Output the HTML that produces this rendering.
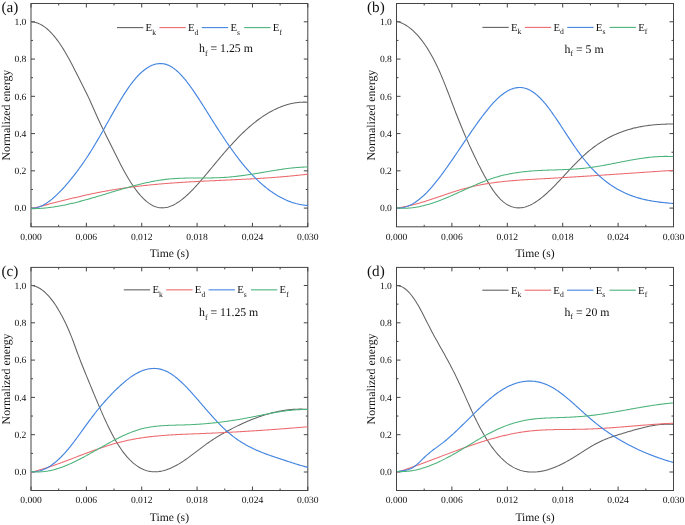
<!DOCTYPE html>
<html><head><meta charset="utf-8"><style>
html,body{margin:0;padding:0;background:#fff;}
svg{display:block;filter:blur(0.3px);}
text{font-family:"Liberation Serif",serif;fill:#111;text-rendering:geometricPrecision;}
.tl{font-size:9.6px;}
.at{font-size:11.6px;}
.at2{font-size:11.85px;}
.pl{font-size:15.2px;}
.lg{font-size:10.8px;}
.an{font-size:11.8px;}
.sb{font-size:7.6px;}
.sb2{font-size:7.8px;}
</style></head><body>
<svg width="685" height="525" viewBox="0 0 685 525">
<rect width="685" height="525" fill="#fff"/>
<rect x="31.00" y="3.50" width="276.80" height="223.30" fill="none" stroke="#444" stroke-width="1"/>
<path d="M31.00,226.80V222.80M31.00,3.50V7.50M58.68,226.80V224.80M58.68,3.50V5.50M86.36,226.80V222.80M86.36,3.50V7.50M114.04,226.80V224.80M114.04,3.50V5.50M141.72,226.80V222.80M141.72,3.50V7.50M169.40,226.80V224.80M169.40,3.50V5.50M197.08,226.80V222.80M197.08,3.50V7.50M224.76,226.80V224.80M224.76,3.50V5.50M252.44,226.80V222.80M252.44,3.50V7.50M280.12,226.80V224.80M280.12,3.50V5.50M307.80,226.80V222.80M307.80,3.50V7.50M31.00,208.10H35.00M307.80,208.10H303.80M31.00,189.47H33.00M307.80,189.47H305.80M31.00,170.84H35.00M307.80,170.84H303.80M31.00,152.21H33.00M307.80,152.21H305.80M31.00,133.58H35.00M307.80,133.58H303.80M31.00,114.95H33.00M307.80,114.95H305.80M31.00,96.32H35.00M307.80,96.32H303.80M31.00,77.69H33.00M307.80,77.69H305.80M31.00,59.06H35.00M307.80,59.06H303.80M31.00,40.43H33.00M307.80,40.43H305.80M31.00,21.80H35.00M307.80,21.80H303.80" stroke="#444" stroke-width="1" fill="none"/>
<path d="M31.50,21.91 L32.50,21.96 L33.50,22.08 L34.50,22.24 L35.50,22.47 L36.50,22.74 L37.50,23.07 L38.50,23.46 L39.50,23.89 L40.50,24.38 L41.50,24.92 L42.50,25.52 L43.50,26.16 L44.50,26.86 L45.50,27.61 L46.50,28.40 L47.50,29.25 L48.50,30.15 L49.50,31.10 L50.50,32.09 L51.50,33.14 L52.50,34.23 L53.50,35.38 L54.50,36.57 L55.50,37.80 L56.50,39.09 L57.50,40.42 L58.50,41.79 L59.50,43.22 L60.50,44.68 L61.50,46.20 L62.50,47.75 L63.50,49.36 L64.50,51.00 L65.50,52.69 L66.50,54.43 L67.50,56.20 L68.50,58.01 L69.50,59.85 L70.50,61.72 L71.50,63.61 L72.50,65.53 L73.50,67.47 L74.50,69.42 L75.50,71.39 L76.50,73.36 L77.50,75.34 L78.50,77.33 L79.50,79.31 L80.50,81.29 L81.50,83.26 L82.50,85.23 L83.50,87.20 L84.50,89.19 L85.50,91.19 L86.50,93.22 L87.50,95.28 L88.50,97.39 L89.50,99.54 L90.50,101.74 L91.50,103.98 L92.50,106.24 L93.50,108.52 L94.50,110.80 L95.50,113.06 L96.50,115.31 L97.50,117.51 L98.50,119.68 L99.50,121.82 L100.50,123.93 L101.50,126.01 L102.50,128.07 L103.50,130.11 L104.50,132.14 L105.50,134.16 L106.50,136.17 L107.50,138.17 L108.50,140.18 L109.50,142.18 L110.50,144.20 L111.50,146.22 L112.50,148.25 L113.50,150.27 L114.50,152.30 L115.50,154.32 L116.50,156.33 L117.50,158.33 L118.50,160.31 L119.50,162.28 L120.50,164.22 L121.50,166.15 L122.50,168.04 L123.50,169.90 L124.50,171.73 L125.50,173.53 L126.50,175.28 L127.50,177.00 L128.50,178.68 L129.50,180.31 L130.50,181.91 L131.50,183.46 L132.50,184.97 L133.50,186.44 L134.50,187.87 L135.50,189.25 L136.50,190.58 L137.50,191.88 L138.50,193.12 L139.50,194.32 L140.50,195.47 L141.50,196.58 L142.50,197.64 L143.50,198.65 L144.50,199.60 L145.50,200.51 L146.50,201.37 L147.50,202.18 L148.50,202.93 L149.50,203.64 L150.50,204.29 L151.50,204.88 L152.50,205.43 L153.50,205.91 L154.50,206.35 L155.50,206.72 L156.50,207.04 L157.50,207.31 L158.50,207.52 L159.50,207.68 L160.50,207.79 L161.50,207.85 L162.50,207.85 L163.50,207.81 L164.50,207.72 L165.50,207.58 L166.50,207.40 L167.50,207.18 L168.50,206.90 L169.50,206.59 L170.50,206.24 L171.50,205.84 L172.50,205.40 L173.50,204.93 L174.50,204.42 L175.50,203.87 L176.50,203.28 L177.50,202.66 L178.50,202.01 L179.50,201.32 L180.50,200.60 L181.50,199.85 L182.50,199.07 L183.50,198.26 L184.50,197.43 L185.50,196.57 L186.50,195.68 L187.50,194.76 L188.50,193.83 L189.50,192.87 L190.50,191.88 L191.50,190.88 L192.50,189.86 L193.50,188.82 L194.50,187.76 L195.50,186.68 L196.50,185.59 L197.50,184.48 L198.50,183.36 L199.50,182.23 L200.50,181.08 L201.50,179.92 L202.50,178.76 L203.50,177.58 L204.50,176.40 L205.50,175.21 L206.50,174.01 L207.50,172.81 L208.50,171.60 L209.50,170.40 L210.50,169.19 L211.50,167.98 L212.50,166.76 L213.50,165.56 L214.50,164.35 L215.50,163.14 L216.50,161.94 L217.50,160.75 L218.50,159.55 L219.50,158.37 L220.50,157.18 L221.50,156.01 L222.50,154.84 L223.50,153.67 L224.50,152.51 L225.50,151.36 L226.50,150.22 L227.50,149.08 L228.50,147.96 L229.50,146.84 L230.50,145.73 L231.50,144.63 L232.50,143.53 L233.50,142.45 L234.50,141.38 L235.50,140.32 L236.50,139.27 L237.50,138.23 L238.50,137.20 L239.50,136.19 L240.50,135.18 L241.50,134.19 L242.50,133.21 L243.50,132.25 L244.50,131.30 L245.50,130.36 L246.50,129.44 L247.50,128.53 L248.50,127.64 L249.50,126.76 L250.50,125.90 L251.50,125.05 L252.50,124.22 L253.50,123.40 L254.50,122.59 L255.50,121.80 L256.50,121.02 L257.50,120.26 L258.50,119.52 L259.50,118.79 L260.50,118.07 L261.50,117.37 L262.50,116.68 L263.50,116.01 L264.50,115.36 L265.50,114.72 L266.50,114.09 L267.50,113.48 L268.50,112.89 L269.50,112.31 L270.50,111.74 L271.50,111.20 L272.50,110.66 L273.50,110.15 L274.50,109.65 L275.50,109.16 L276.50,108.69 L277.50,108.24 L278.50,107.80 L279.50,107.38 L280.50,106.97 L281.50,106.58 L282.50,106.21 L283.50,105.85 L284.50,105.51 L285.50,105.18 L286.50,104.87 L287.50,104.58 L288.50,104.30 L289.50,104.04 L290.50,103.80 L291.50,103.57 L292.50,103.36 L293.50,103.17 L294.50,102.99 L295.50,102.83 L296.50,102.68 L297.50,102.56 L298.50,102.44 L299.50,102.35 L300.50,102.27 L301.50,102.21 L302.50,102.17 L303.50,102.14 L304.50,102.13 L305.50,102.14 L306.50,102.17 L307.50,102.21 L308.00,102.24" fill="none" stroke="#626262" stroke-width="1.05" stroke-linejoin="round"/>
<path d="M31.00,208.67 L32.00,208.42 L33.00,208.17 L34.00,207.92 L35.00,207.67 L36.00,207.42 L37.00,207.17 L38.00,206.91 L39.00,206.66 L40.00,206.41 L41.00,206.15 L42.00,205.90 L43.00,205.64 L44.00,205.39 L45.00,205.13 L46.00,204.88 L47.00,204.62 L48.00,204.37 L49.00,204.11 L50.00,203.86 L51.00,203.60 L52.00,203.35 L53.00,203.09 L54.00,202.84 L55.00,202.58 L56.00,202.33 L57.00,202.08 L58.00,201.82 L59.00,201.57 L60.00,201.32 L61.00,201.07 L62.00,200.81 L63.00,200.56 L64.00,200.31 L65.00,200.07 L66.00,199.82 L67.00,199.57 L68.00,199.32 L69.00,199.08 L70.00,198.83 L71.00,198.59 L72.00,198.35 L73.00,198.10 L74.00,197.86 L75.00,197.62 L76.00,197.39 L77.00,197.15 L78.00,196.91 L79.00,196.68 L80.00,196.45 L81.00,196.21 L82.00,195.99 L83.00,195.76 L84.00,195.53 L85.00,195.31 L86.00,195.08 L87.00,194.86 L88.00,194.64 L89.00,194.42 L90.00,194.21 L91.00,193.99 L92.00,193.78 L93.00,193.57 L94.00,193.36 L95.00,193.16 L96.00,192.95 L97.00,192.75 L98.00,192.55 L99.00,192.36 L100.00,192.16 L101.00,191.97 L102.00,191.78 L103.00,191.59 L104.00,191.41 L105.00,191.22 L106.00,191.04 L107.00,190.86 L108.00,190.69 L109.00,190.51 L110.00,190.34 L111.00,190.17 L112.00,190.00 L113.00,189.83 L114.00,189.67 L115.00,189.50 L116.00,189.34 L117.00,189.18 L118.00,189.03 L119.00,188.87 L120.00,188.72 L121.00,188.57 L122.00,188.42 L123.00,188.27 L124.00,188.13 L125.00,187.98 L126.00,187.84 L127.00,187.70 L128.00,187.56 L129.00,187.43 L130.00,187.29 L131.00,187.16 L132.00,187.03 L133.00,186.90 L134.00,186.77 L135.00,186.65 L136.00,186.52 L137.00,186.40 L138.00,186.28 L139.00,186.16 L140.00,186.04 L141.00,185.93 L142.00,185.81 L143.00,185.70 L144.00,185.59 L145.00,185.48 L146.00,185.37 L147.00,185.26 L148.00,185.16 L149.00,185.06 L150.00,184.95 L151.00,184.85 L152.00,184.75 L153.00,184.66 L154.00,184.56 L155.00,184.46 L156.00,184.37 L157.00,184.28 L158.00,184.19 L159.00,184.10 L160.00,184.01 L161.00,183.92 L162.00,183.84 L163.00,183.75 L164.00,183.67 L165.00,183.59 L166.00,183.51 L167.00,183.43 L168.00,183.35 L169.00,183.27 L170.00,183.20 L171.00,183.12 L172.00,183.05 L173.00,182.97 L174.00,182.90 L175.00,182.83 L176.00,182.76 L177.00,182.69 L178.00,182.63 L179.00,182.56 L180.00,182.49 L181.00,182.43 L182.00,182.36 L183.00,182.30 L184.00,182.24 L185.00,182.18 L186.00,182.12 L187.00,182.06 L188.00,182.00 L189.00,181.94 L190.00,181.88 L191.00,181.83 L192.00,181.77 L193.00,181.71 L194.00,181.66 L195.00,181.61 L196.00,181.55 L197.00,181.50 L198.00,181.45 L199.00,181.39 L200.00,181.34 L201.00,181.29 L202.00,181.24 L203.00,181.19 L204.00,181.14 L205.00,181.09 L206.00,181.04 L207.00,180.99 L208.00,180.95 L209.00,180.90 L210.00,180.85 L211.00,180.80 L212.00,180.76 L213.00,180.71 L214.00,180.66 L215.00,180.62 L216.00,180.57 L217.00,180.52 L218.00,180.48 L219.00,180.43 L220.00,180.39 L221.00,180.34 L222.00,180.29 L223.00,180.25 L224.00,180.20 L225.00,180.16 L226.00,180.11 L227.00,180.07 L228.00,180.02 L229.00,179.97 L230.00,179.93 L231.00,179.88 L232.00,179.83 L233.00,179.79 L234.00,179.74 L235.00,179.69 L236.00,179.64 L237.00,179.60 L238.00,179.55 L239.00,179.50 L240.00,179.45 L241.00,179.40 L242.00,179.35 L243.00,179.30 L244.00,179.25 L245.00,179.20 L246.00,179.15 L247.00,179.10 L248.00,179.05 L249.00,178.99 L250.00,178.94 L251.00,178.89 L252.00,178.83 L253.00,178.77 L254.00,178.72 L255.00,178.66 L256.00,178.60 L257.00,178.55 L258.00,178.49 L259.00,178.43 L260.00,178.37 L261.00,178.31 L262.00,178.24 L263.00,178.18 L264.00,178.12 L265.00,178.05 L266.00,177.99 L267.00,177.92 L268.00,177.85 L269.00,177.79 L270.00,177.72 L271.00,177.65 L272.00,177.57 L273.00,177.50 L274.00,177.43 L275.00,177.35 L276.00,177.28 L277.00,177.20 L278.00,177.12 L279.00,177.04 L280.00,176.96 L281.00,176.88 L282.00,176.80 L283.00,176.71 L284.00,176.63 L285.00,176.54 L286.00,176.45 L287.00,176.36 L288.00,176.27 L289.00,176.18 L290.00,176.09 L291.00,175.99 L292.00,175.89 L293.00,175.80 L294.00,175.70 L295.00,175.60 L296.00,175.49 L297.00,175.39 L298.00,175.28 L299.00,175.17 L300.00,175.07 L301.00,174.95 L302.00,174.84 L303.00,174.73 L304.00,174.61 L305.00,174.49 L306.00,174.37 L307.00,174.25 L308.00,174.13" fill="none" stroke="#ec6a6e" stroke-width="1.05" stroke-linejoin="round"/>
<path d="M31.00,208.35 L32.00,208.33 L33.00,208.26 L34.00,208.15 L35.00,207.99 L36.00,207.78 L37.00,207.53 L38.00,207.24 L39.00,206.90 L40.00,206.53 L41.00,206.11 L42.00,205.65 L43.00,205.16 L44.00,204.62 L45.00,204.05 L46.00,203.45 L47.00,202.81 L48.00,202.13 L49.00,201.42 L50.00,200.68 L51.00,199.91 L52.00,199.10 L53.00,198.27 L54.00,197.41 L55.00,196.52 L56.00,195.60 L57.00,194.65 L58.00,193.68 L59.00,192.69 L60.00,191.67 L61.00,190.63 L62.00,189.57 L63.00,188.49 L64.00,187.38 L65.00,186.26 L66.00,185.12 L67.00,183.96 L68.00,182.79 L69.00,181.60 L70.00,180.39 L71.00,179.17 L72.00,177.93 L73.00,176.67 L74.00,175.40 L75.00,174.11 L76.00,172.80 L77.00,171.48 L78.00,170.14 L79.00,168.78 L80.00,167.40 L81.00,166.00 L82.00,164.59 L83.00,163.16 L84.00,161.71 L85.00,160.24 L86.00,158.75 L87.00,157.25 L88.00,155.72 L89.00,154.18 L90.00,152.62 L91.00,151.03 L92.00,149.43 L93.00,147.81 L94.00,146.17 L95.00,144.51 L96.00,142.82 L97.00,141.13 L98.00,139.41 L99.00,137.69 L100.00,135.94 L101.00,134.19 L102.00,132.43 L103.00,130.66 L104.00,128.89 L105.00,127.10 L106.00,125.32 L107.00,123.53 L108.00,121.75 L109.00,119.96 L110.00,118.18 L111.00,116.40 L112.00,114.63 L113.00,112.87 L114.00,111.11 L115.00,109.37 L116.00,107.63 L117.00,105.92 L118.00,104.21 L119.00,102.53 L120.00,100.86 L121.00,99.21 L122.00,97.58 L123.00,95.98 L124.00,94.40 L125.00,92.85 L126.00,91.33 L127.00,89.83 L128.00,88.37 L129.00,86.94 L130.00,85.54 L131.00,84.18 L132.00,82.85 L133.00,81.57 L134.00,80.32 L135.00,79.12 L136.00,77.95 L137.00,76.83 L138.00,75.75 L139.00,74.72 L140.00,73.73 L141.00,72.78 L142.00,71.87 L143.00,71.01 L144.00,70.19 L145.00,69.42 L146.00,68.70 L147.00,68.02 L148.00,67.38 L149.00,66.80 L150.00,66.26 L151.00,65.77 L152.00,65.32 L153.00,64.93 L154.00,64.58 L155.00,64.29 L156.00,64.04 L157.00,63.84 L158.00,63.70 L159.00,63.60 L160.00,63.56 L161.00,63.57 L162.00,63.63 L163.00,63.74 L164.00,63.91 L165.00,64.13 L166.00,64.40 L167.00,64.73 L168.00,65.11 L169.00,65.55 L170.00,66.04 L171.00,66.59 L172.00,67.20 L173.00,67.86 L174.00,68.57 L175.00,69.34 L176.00,70.15 L177.00,71.02 L178.00,71.93 L179.00,72.89 L180.00,73.89 L181.00,74.93 L182.00,76.01 L183.00,77.14 L184.00,78.30 L185.00,79.49 L186.00,80.73 L187.00,81.99 L188.00,83.29 L189.00,84.61 L190.00,85.97 L191.00,87.35 L192.00,88.75 L193.00,90.18 L194.00,91.64 L195.00,93.11 L196.00,94.60 L197.00,96.11 L198.00,97.64 L199.00,99.18 L200.00,100.73 L201.00,102.29 L202.00,103.86 L203.00,105.45 L204.00,107.03 L205.00,108.63 L206.00,110.22 L207.00,111.82 L208.00,113.42 L209.00,115.02 L210.00,116.61 L211.00,118.20 L212.00,119.79 L213.00,121.37 L214.00,122.94 L215.00,124.51 L216.00,126.08 L217.00,127.63 L218.00,129.18 L219.00,130.72 L220.00,132.26 L221.00,133.78 L222.00,135.30 L223.00,136.80 L224.00,138.30 L225.00,139.79 L226.00,141.26 L227.00,142.73 L228.00,144.18 L229.00,145.62 L230.00,147.05 L231.00,148.47 L232.00,149.87 L233.00,151.26 L234.00,152.64 L235.00,154.00 L236.00,155.35 L237.00,156.69 L238.00,158.00 L239.00,159.30 L240.00,160.59 L241.00,161.86 L242.00,163.11 L243.00,164.34 L244.00,165.56 L245.00,166.76 L246.00,167.94 L247.00,169.10 L248.00,170.24 L249.00,171.36 L250.00,172.47 L251.00,173.55 L252.00,174.62 L253.00,175.67 L254.00,176.70 L255.00,177.71 L256.00,178.70 L257.00,179.67 L258.00,180.63 L259.00,181.57 L260.00,182.49 L261.00,183.39 L262.00,184.27 L263.00,185.13 L264.00,185.98 L265.00,186.80 L266.00,187.61 L267.00,188.40 L268.00,189.18 L269.00,189.93 L270.00,190.67 L271.00,191.39 L272.00,192.09 L273.00,192.77 L274.00,193.43 L275.00,194.08 L276.00,194.70 L277.00,195.31 L278.00,195.91 L279.00,196.48 L280.00,197.04 L281.00,197.58 L282.00,198.10 L283.00,198.60 L284.00,199.08 L285.00,199.55 L286.00,200.00 L287.00,200.43 L288.00,200.85 L289.00,201.24 L290.00,201.62 L291.00,201.98 L292.00,202.33 L293.00,202.65 L294.00,202.96 L295.00,203.25 L296.00,203.53 L297.00,203.78 L298.00,204.02 L299.00,204.24 L300.00,204.45 L301.00,204.63 L302.00,204.80 L303.00,204.96 L304.00,205.09 L305.00,205.21 L306.00,205.31 L307.00,205.39 L308.00,205.46" fill="none" stroke="#4485e0" stroke-width="1.15" stroke-linejoin="round"/>
<path d="M31.00,208.65 L32.00,208.65 L33.00,208.65 L34.00,208.64 L35.00,208.62 L36.00,208.59 L37.00,208.56 L38.00,208.52 L39.00,208.47 L40.00,208.41 L41.00,208.35 L42.00,208.28 L43.00,208.20 L44.00,208.11 L45.00,208.02 L46.00,207.92 L47.00,207.82 L48.00,207.71 L49.00,207.59 L50.00,207.47 L51.00,207.34 L52.00,207.20 L53.00,207.06 L54.00,206.91 L55.00,206.76 L56.00,206.60 L57.00,206.43 L58.00,206.26 L59.00,206.09 L60.00,205.91 L61.00,205.72 L62.00,205.53 L63.00,205.34 L64.00,205.14 L65.00,204.93 L66.00,204.72 L67.00,204.51 L68.00,204.29 L69.00,204.07 L70.00,203.84 L71.00,203.61 L72.00,203.38 L73.00,203.14 L74.00,202.90 L75.00,202.66 L76.00,202.41 L77.00,202.16 L78.00,201.90 L79.00,201.64 L80.00,201.38 L81.00,201.12 L82.00,200.85 L83.00,200.58 L84.00,200.31 L85.00,200.03 L86.00,199.76 L87.00,199.48 L88.00,199.20 L89.00,198.91 L90.00,198.63 L91.00,198.34 L92.00,198.05 L93.00,197.76 L94.00,197.47 L95.00,197.18 L96.00,196.88 L97.00,196.58 L98.00,196.29 L99.00,195.99 L100.00,195.69 L101.00,195.39 L102.00,195.09 L103.00,194.79 L104.00,194.49 L105.00,194.18 L106.00,193.88 L107.00,193.58 L108.00,193.28 L109.00,192.98 L110.00,192.67 L111.00,192.37 L112.00,192.07 L113.00,191.77 L114.00,191.47 L115.00,191.17 L116.00,190.87 L117.00,190.57 L118.00,190.28 L119.00,189.98 L120.00,189.69 L121.00,189.39 L122.00,189.10 L123.00,188.81 L124.00,188.52 L125.00,188.24 L126.00,187.95 L127.00,187.67 L128.00,187.39 L129.00,187.11 L130.00,186.84 L131.00,186.56 L132.00,186.29 L133.00,186.02 L134.00,185.76 L135.00,185.50 L136.00,185.24 L137.00,184.98 L138.00,184.73 L139.00,184.48 L140.00,184.23 L141.00,183.99 L142.00,183.75 L143.00,183.51 L144.00,183.28 L145.00,183.05 L146.00,182.83 L147.00,182.61 L148.00,182.39 L149.00,182.18 L150.00,181.97 L151.00,181.77 L152.00,181.57 L153.00,181.38 L154.00,181.19 L155.00,181.01 L156.00,180.83 L157.00,180.66 L158.00,180.49 L159.00,180.33 L160.00,180.17 L161.00,180.02 L162.00,179.88 L163.00,179.74 L164.00,179.61 L165.00,179.48 L166.00,179.36 L167.00,179.24 L168.00,179.14 L169.00,179.03 L170.00,178.94 L171.00,178.85 L172.00,178.77 L173.00,178.69 L174.00,178.62 L175.00,178.55 L176.00,178.49 L177.00,178.43 L178.00,178.38 L179.00,178.33 L180.00,178.28 L181.00,178.24 L182.00,178.21 L183.00,178.18 L184.00,178.15 L185.00,178.12 L186.00,178.10 L187.00,178.08 L188.00,178.06 L189.00,178.05 L190.00,178.03 L191.00,178.02 L192.00,178.01 L193.00,178.00 L194.00,178.00 L195.00,177.99 L196.00,177.99 L197.00,177.99 L198.00,177.98 L199.00,177.98 L200.00,177.98 L201.00,177.98 L202.00,177.97 L203.00,177.97 L204.00,177.97 L205.00,177.96 L206.00,177.96 L207.00,177.95 L208.00,177.94 L209.00,177.93 L210.00,177.92 L211.00,177.90 L212.00,177.89 L213.00,177.87 L214.00,177.85 L215.00,177.82 L216.00,177.79 L217.00,177.76 L218.00,177.73 L219.00,177.69 L220.00,177.65 L221.00,177.60 L222.00,177.55 L223.00,177.50 L224.00,177.44 L225.00,177.37 L226.00,177.30 L227.00,177.23 L228.00,177.15 L229.00,177.07 L230.00,176.98 L231.00,176.89 L232.00,176.79 L233.00,176.69 L234.00,176.59 L235.00,176.48 L236.00,176.37 L237.00,176.25 L238.00,176.14 L239.00,176.01 L240.00,175.89 L241.00,175.76 L242.00,175.63 L243.00,175.50 L244.00,175.36 L245.00,175.22 L246.00,175.08 L247.00,174.93 L248.00,174.79 L249.00,174.64 L250.00,174.49 L251.00,174.33 L252.00,174.18 L253.00,174.02 L254.00,173.86 L255.00,173.70 L256.00,173.54 L257.00,173.37 L258.00,173.21 L259.00,173.04 L260.00,172.87 L261.00,172.70 L262.00,172.53 L263.00,172.36 L264.00,172.19 L265.00,172.02 L266.00,171.85 L267.00,171.68 L268.00,171.51 L269.00,171.34 L270.00,171.17 L271.00,171.01 L272.00,170.84 L273.00,170.67 L274.00,170.51 L275.00,170.34 L276.00,170.18 L277.00,170.02 L278.00,169.87 L279.00,169.71 L280.00,169.56 L281.00,169.41 L282.00,169.26 L283.00,169.12 L284.00,168.98 L285.00,168.84 L286.00,168.71 L287.00,168.58 L288.00,168.45 L289.00,168.33 L290.00,168.21 L291.00,168.09 L292.00,167.99 L293.00,167.88 L294.00,167.78 L295.00,167.69 L296.00,167.60 L297.00,167.51 L298.00,167.44 L299.00,167.36 L300.00,167.30 L301.00,167.24 L302.00,167.18 L303.00,167.14 L304.00,167.10 L305.00,167.06 L306.00,167.04 L307.00,167.02 L308.00,167.00" fill="none" stroke="#4cb37b" stroke-width="1.05" stroke-linejoin="round"/>
<text x="31.00" y="239.50" text-anchor="middle" class="tl">0.000</text>
<text x="86.36" y="239.50" text-anchor="middle" class="tl">0.006</text>
<text x="141.72" y="239.50" text-anchor="middle" class="tl">0.012</text>
<text x="197.08" y="239.50" text-anchor="middle" class="tl">0.018</text>
<text x="252.44" y="239.50" text-anchor="middle" class="tl">0.024</text>
<text x="307.80" y="239.50" text-anchor="middle" class="tl">0.030</text>
<text x="26.40" y="211.40" text-anchor="end" class="tl">0.0</text>
<text x="26.40" y="174.14" text-anchor="end" class="tl">0.2</text>
<text x="26.40" y="136.88" text-anchor="end" class="tl">0.4</text>
<text x="26.40" y="99.62" text-anchor="end" class="tl">0.6</text>
<text x="26.40" y="62.36" text-anchor="end" class="tl">0.8</text>
<text x="26.40" y="25.10" text-anchor="end" class="tl">1.0</text>
<text x="169.40" y="256.80" text-anchor="middle" class="at">Time (s)</text>
<text transform="translate(9.80,115.15) rotate(-90)" text-anchor="middle" class="at2">Normalized energy</text>
<text x="1.50" y="11.90" class="pl">(a)</text>
<path d="M117.00,27.60H143.30" stroke="#626262" stroke-width="1.1"/>
<text x="145.60" y="31.20" class="lg">E<tspan class="sb" dy="3.4">k</tspan></text>
<path d="M159.40,27.60H185.70" stroke="#ec6a6e" stroke-width="1.1"/>
<text x="188.00" y="31.20" class="lg">E<tspan class="sb" dy="3.4">d</tspan></text>
<path d="M201.80,27.60H228.10" stroke="#4485e0" stroke-width="1.1"/>
<text x="230.40" y="31.20" class="lg">E<tspan class="sb" dy="3.4">s</tspan></text>
<path d="M244.20,27.60H270.50" stroke="#4cb37b" stroke-width="1.1"/>
<text x="272.80" y="31.20" class="lg">E<tspan class="sb" dy="3.4">f</tspan></text>
<text x="199.00" y="52.20" class="an">h<tspan class="sb2" dy="3.6">f</tspan><tspan dy="-3.6"> = 1.25 m</tspan></text>
<rect x="396.50" y="3.50" width="277.00" height="223.30" fill="none" stroke="#444" stroke-width="1"/>
<path d="M396.50,226.80V222.80M396.50,3.50V7.50M424.20,226.80V224.80M424.20,3.50V5.50M451.90,226.80V222.80M451.90,3.50V7.50M479.60,226.80V224.80M479.60,3.50V5.50M507.30,226.80V222.80M507.30,3.50V7.50M535.00,226.80V224.80M535.00,3.50V5.50M562.70,226.80V222.80M562.70,3.50V7.50M590.40,226.80V224.80M590.40,3.50V5.50M618.10,226.80V222.80M618.10,3.50V7.50M645.80,226.80V224.80M645.80,3.50V5.50M673.50,226.80V222.80M673.50,3.50V7.50M396.50,208.10H400.50M673.50,208.10H669.50M396.50,189.47H398.50M673.50,189.47H671.50M396.50,170.84H400.50M673.50,170.84H669.50M396.50,152.21H398.50M673.50,152.21H671.50M396.50,133.58H400.50M673.50,133.58H669.50M396.50,114.95H398.50M673.50,114.95H671.50M396.50,96.32H400.50M673.50,96.32H669.50M396.50,77.69H398.50M673.50,77.69H671.50M396.50,59.06H400.50M673.50,59.06H669.50M396.50,40.43H398.50M673.50,40.43H671.50M396.50,21.80H400.50M673.50,21.80H669.50" stroke="#444" stroke-width="1" fill="none"/>
<path d="M397.00,21.37 L398.00,21.65 L399.00,21.98 L400.00,22.34 L401.00,22.73 L402.00,23.17 L403.00,23.64 L404.00,24.16 L405.00,24.71 L406.00,25.31 L407.00,25.94 L408.00,26.62 L409.00,27.33 L410.00,28.09 L411.00,28.89 L412.00,29.73 L413.00,30.62 L414.00,31.55 L415.00,32.52 L416.00,33.54 L417.00,34.60 L418.00,35.71 L419.00,36.86 L420.00,38.06 L421.00,39.31 L422.00,40.60 L423.00,41.94 L424.00,43.33 L425.00,44.77 L426.00,46.25 L427.00,47.78 L428.00,49.37 L429.00,51.00 L430.00,52.69 L431.00,54.43 L432.00,56.22 L433.00,58.07 L434.00,59.97 L435.00,61.93 L436.00,63.94 L437.00,66.01 L438.00,68.14 L439.00,70.33 L440.00,72.58 L441.00,74.88 L442.00,77.25 L443.00,79.66 L444.00,82.11 L445.00,84.61 L446.00,87.14 L447.00,89.70 L448.00,92.28 L449.00,94.89 L450.00,97.50 L451.00,100.13 L452.00,102.75 L453.00,105.38 L454.00,108.00 L455.00,110.60 L456.00,113.19 L457.00,115.76 L458.00,118.29 L459.00,120.80 L460.00,123.29 L461.00,125.74 L462.00,128.17 L463.00,130.57 L464.00,132.94 L465.00,135.28 L466.00,137.60 L467.00,139.89 L468.00,142.16 L469.00,144.39 L470.00,146.61 L471.00,148.79 L472.00,150.96 L473.00,153.09 L474.00,155.20 L475.00,157.29 L476.00,159.35 L477.00,161.38 L478.00,163.40 L479.00,165.38 L480.00,167.35 L481.00,169.29 L482.00,171.20 L483.00,173.10 L484.00,174.97 L485.00,176.81 L486.00,178.62 L487.00,180.40 L488.00,182.13 L489.00,183.83 L490.00,185.48 L491.00,187.07 L492.00,188.62 L493.00,190.11 L494.00,191.53 L495.00,192.90 L496.00,194.20 L497.00,195.44 L498.00,196.61 L499.00,197.73 L500.00,198.78 L501.00,199.77 L502.00,200.70 L503.00,201.58 L504.00,202.39 L505.00,203.14 L506.00,203.83 L507.00,204.47 L508.00,205.05 L509.00,205.57 L510.00,206.03 L511.00,206.44 L512.00,206.80 L513.00,207.10 L514.00,207.35 L515.00,207.56 L516.00,207.71 L517.00,207.81 L518.00,207.86 L519.00,207.87 L520.00,207.83 L521.00,207.75 L522.00,207.63 L523.00,207.46 L524.00,207.24 L525.00,206.99 L526.00,206.70 L527.00,206.37 L528.00,206.00 L529.00,205.59 L530.00,205.15 L531.00,204.67 L532.00,204.16 L533.00,203.62 L534.00,203.04 L535.00,202.44 L536.00,201.80 L537.00,201.13 L538.00,200.44 L539.00,199.72 L540.00,198.97 L541.00,198.20 L542.00,197.40 L543.00,196.58 L544.00,195.74 L545.00,194.88 L546.00,193.99 L547.00,193.09 L548.00,192.17 L549.00,191.23 L550.00,190.28 L551.00,189.31 L552.00,188.33 L553.00,187.33 L554.00,186.32 L555.00,185.30 L556.00,184.27 L557.00,183.23 L558.00,182.18 L559.00,181.13 L560.00,180.07 L561.00,179.00 L562.00,177.93 L563.00,176.85 L564.00,175.78 L565.00,174.70 L566.00,173.62 L567.00,172.54 L568.00,171.47 L569.00,170.39 L570.00,169.32 L571.00,168.26 L572.00,167.20 L573.00,166.14 L574.00,165.10 L575.00,164.06 L576.00,163.03 L577.00,162.01 L578.00,161.01 L579.00,160.01 L580.00,159.03 L581.00,158.07 L582.00,157.12 L583.00,156.18 L584.00,155.27 L585.00,154.37 L586.00,153.49 L587.00,152.62 L588.00,151.77 L589.00,150.94 L590.00,150.13 L591.00,149.33 L592.00,148.54 L593.00,147.78 L594.00,147.03 L595.00,146.29 L596.00,145.57 L597.00,144.86 L598.00,144.18 L599.00,143.50 L600.00,142.84 L601.00,142.20 L602.00,141.57 L603.00,140.95 L604.00,140.35 L605.00,139.76 L606.00,139.19 L607.00,138.63 L608.00,138.08 L609.00,137.55 L610.00,137.03 L611.00,136.52 L612.00,136.03 L613.00,135.54 L614.00,135.08 L615.00,134.62 L616.00,134.18 L617.00,133.74 L618.00,133.33 L619.00,132.92 L620.00,132.52 L621.00,132.14 L622.00,131.76 L623.00,131.40 L624.00,131.05 L625.00,130.71 L626.00,130.38 L627.00,130.06 L628.00,129.75 L629.00,129.45 L630.00,129.17 L631.00,128.89 L632.00,128.62 L633.00,128.36 L634.00,128.11 L635.00,127.87 L636.00,127.64 L637.00,127.41 L638.00,127.20 L639.00,127.00 L640.00,126.80 L641.00,126.61 L642.00,126.43 L643.00,126.26 L644.00,126.09 L645.00,125.94 L646.00,125.79 L647.00,125.65 L648.00,125.51 L649.00,125.38 L650.00,125.26 L651.00,125.15 L652.00,125.04 L653.00,124.94 L654.00,124.85 L655.00,124.76 L656.00,124.67 L657.00,124.60 L658.00,124.52 L659.00,124.46 L660.00,124.40 L661.00,124.34 L662.00,124.29 L663.00,124.24 L664.00,124.20 L665.00,124.16 L666.00,124.13 L667.00,124.10 L668.00,124.08 L669.00,124.06 L670.00,124.04 L671.00,124.03 L672.00,124.02 L673.00,124.01" fill="none" stroke="#626262" stroke-width="1.05" stroke-linejoin="round"/>
<path d="M397.00,207.86 L398.00,207.73 L399.00,207.60 L400.00,207.46 L401.00,207.31 L402.00,207.15 L403.00,206.98 L404.00,206.80 L405.00,206.61 L406.00,206.41 L407.00,206.21 L408.00,205.99 L409.00,205.77 L410.00,205.55 L411.00,205.31 L412.00,205.07 L413.00,204.82 L414.00,204.56 L415.00,204.30 L416.00,204.03 L417.00,203.76 L418.00,203.48 L419.00,203.20 L420.00,202.91 L421.00,202.61 L422.00,202.31 L423.00,202.01 L424.00,201.70 L425.00,201.39 L426.00,201.07 L427.00,200.75 L428.00,200.43 L429.00,200.11 L430.00,199.78 L431.00,199.45 L432.00,199.12 L433.00,198.78 L434.00,198.45 L435.00,198.11 L436.00,197.77 L437.00,197.43 L438.00,197.09 L439.00,196.75 L440.00,196.41 L441.00,196.07 L442.00,195.73 L443.00,195.38 L444.00,195.04 L445.00,194.70 L446.00,194.37 L447.00,194.03 L448.00,193.69 L449.00,193.36 L450.00,193.03 L451.00,192.69 L452.00,192.37 L453.00,192.04 L454.00,191.72 L455.00,191.40 L456.00,191.08 L457.00,190.77 L458.00,190.46 L459.00,190.16 L460.00,189.86 L461.00,189.56 L462.00,189.27 L463.00,188.99 L464.00,188.70 L465.00,188.43 L466.00,188.16 L467.00,187.89 L468.00,187.64 L469.00,187.38 L470.00,187.14 L471.00,186.89 L472.00,186.66 L473.00,186.43 L474.00,186.20 L475.00,185.98 L476.00,185.76 L477.00,185.55 L478.00,185.35 L479.00,185.14 L480.00,184.95 L481.00,184.76 L482.00,184.57 L483.00,184.39 L484.00,184.21 L485.00,184.03 L486.00,183.86 L487.00,183.70 L488.00,183.54 L489.00,183.38 L490.00,183.23 L491.00,183.08 L492.00,182.93 L493.00,182.79 L494.00,182.65 L495.00,182.52 L496.00,182.39 L497.00,182.26 L498.00,182.14 L499.00,182.01 L500.00,181.90 L501.00,181.78 L502.00,181.67 L503.00,181.56 L504.00,181.46 L505.00,181.35 L506.00,181.25 L507.00,181.15 L508.00,181.06 L509.00,180.97 L510.00,180.88 L511.00,180.79 L512.00,180.70 L513.00,180.62 L514.00,180.54 L515.00,180.46 L516.00,180.38 L517.00,180.31 L518.00,180.23 L519.00,180.16 L520.00,180.09 L521.00,180.02 L522.00,179.95 L523.00,179.89 L524.00,179.82 L525.00,179.76 L526.00,179.70 L527.00,179.64 L528.00,179.58 L529.00,179.52 L530.00,179.46 L531.00,179.40 L532.00,179.34 L533.00,179.29 L534.00,179.23 L535.00,179.18 L536.00,179.12 L537.00,179.07 L538.00,179.01 L539.00,178.96 L540.00,178.91 L541.00,178.85 L542.00,178.80 L543.00,178.74 L544.00,178.69 L545.00,178.63 L546.00,178.58 L547.00,178.52 L548.00,178.47 L549.00,178.41 L550.00,178.36 L551.00,178.30 L552.00,178.24 L553.00,178.19 L554.00,178.13 L555.00,178.07 L556.00,178.01 L557.00,177.96 L558.00,177.90 L559.00,177.84 L560.00,177.78 L561.00,177.72 L562.00,177.66 L563.00,177.60 L564.00,177.55 L565.00,177.49 L566.00,177.43 L567.00,177.37 L568.00,177.30 L569.00,177.24 L570.00,177.18 L571.00,177.12 L572.00,177.06 L573.00,177.00 L574.00,176.94 L575.00,176.88 L576.00,176.81 L577.00,176.75 L578.00,176.69 L579.00,176.63 L580.00,176.56 L581.00,176.50 L582.00,176.44 L583.00,176.38 L584.00,176.31 L585.00,176.25 L586.00,176.18 L587.00,176.12 L588.00,176.06 L589.00,175.99 L590.00,175.93 L591.00,175.86 L592.00,175.80 L593.00,175.73 L594.00,175.67 L595.00,175.60 L596.00,175.54 L597.00,175.47 L598.00,175.41 L599.00,175.34 L600.00,175.28 L601.00,175.21 L602.00,175.15 L603.00,175.08 L604.00,175.01 L605.00,174.95 L606.00,174.88 L607.00,174.81 L608.00,174.75 L609.00,174.68 L610.00,174.61 L611.00,174.55 L612.00,174.48 L613.00,174.41 L614.00,174.35 L615.00,174.28 L616.00,174.21 L617.00,174.14 L618.00,174.08 L619.00,174.01 L620.00,173.94 L621.00,173.87 L622.00,173.81 L623.00,173.74 L624.00,173.67 L625.00,173.60 L626.00,173.54 L627.00,173.47 L628.00,173.40 L629.00,173.33 L630.00,173.26 L631.00,173.20 L632.00,173.13 L633.00,173.06 L634.00,172.99 L635.00,172.92 L636.00,172.85 L637.00,172.79 L638.00,172.72 L639.00,172.65 L640.00,172.58 L641.00,172.51 L642.00,172.44 L643.00,172.38 L644.00,172.31 L645.00,172.24 L646.00,172.17 L647.00,172.10 L648.00,172.04 L649.00,171.97 L650.00,171.90 L651.00,171.83 L652.00,171.76 L653.00,171.69 L654.00,171.63 L655.00,171.56 L656.00,171.49 L657.00,171.42 L658.00,171.35 L659.00,171.29 L660.00,171.22 L661.00,171.15 L662.00,171.08 L663.00,171.02 L664.00,170.95 L665.00,170.88 L666.00,170.81 L667.00,170.75 L668.00,170.68 L669.00,170.61 L670.00,170.54 L671.00,170.48 L672.00,170.41 L673.00,170.34 L673.20,170.33" fill="none" stroke="#ec6a6e" stroke-width="1.05" stroke-linejoin="round"/>
<path d="M397.00,207.99 L398.00,208.02 L399.00,208.01 L400.00,207.96 L401.00,207.87 L402.00,207.73 L403.00,207.55 L404.00,207.33 L405.00,207.07 L406.00,206.78 L407.00,206.44 L408.00,206.06 L409.00,205.65 L410.00,205.20 L411.00,204.71 L412.00,204.19 L413.00,203.63 L414.00,203.03 L415.00,202.40 L416.00,201.73 L417.00,201.03 L418.00,200.30 L419.00,199.53 L420.00,198.73 L421.00,197.90 L422.00,197.04 L423.00,196.15 L424.00,195.23 L425.00,194.27 L426.00,193.29 L427.00,192.28 L428.00,191.24 L429.00,190.17 L430.00,189.07 L431.00,187.95 L432.00,186.80 L433.00,185.63 L434.00,184.44 L435.00,183.22 L436.00,181.98 L437.00,180.72 L438.00,179.45 L439.00,178.15 L440.00,176.83 L441.00,175.50 L442.00,174.16 L443.00,172.80 L444.00,171.42 L445.00,170.03 L446.00,168.64 L447.00,167.23 L448.00,165.81 L449.00,164.38 L450.00,162.94 L451.00,161.50 L452.00,160.05 L453.00,158.59 L454.00,157.13 L455.00,155.67 L456.00,154.20 L457.00,152.73 L458.00,151.26 L459.00,149.78 L460.00,148.31 L461.00,146.83 L462.00,145.35 L463.00,143.87 L464.00,142.40 L465.00,140.92 L466.00,139.45 L467.00,137.98 L468.00,136.52 L469.00,135.06 L470.00,133.60 L471.00,132.15 L472.00,130.70 L473.00,129.27 L474.00,127.84 L475.00,126.42 L476.00,125.01 L477.00,123.60 L478.00,122.21 L479.00,120.83 L480.00,119.46 L481.00,118.11 L482.00,116.76 L483.00,115.43 L484.00,114.12 L485.00,112.82 L486.00,111.54 L487.00,110.28 L488.00,109.04 L489.00,107.82 L490.00,106.63 L491.00,105.46 L492.00,104.32 L493.00,103.21 L494.00,102.13 L495.00,101.08 L496.00,100.07 L497.00,99.09 L498.00,98.14 L499.00,97.23 L500.00,96.36 L501.00,95.52 L502.00,94.72 L503.00,93.96 L504.00,93.24 L505.00,92.55 L506.00,91.91 L507.00,91.31 L508.00,90.75 L509.00,90.23 L510.00,89.76 L511.00,89.33 L512.00,88.94 L513.00,88.60 L514.00,88.30 L515.00,88.05 L516.00,87.84 L517.00,87.69 L518.00,87.58 L519.00,87.52 L520.00,87.51 L521.00,87.55 L522.00,87.64 L523.00,87.78 L524.00,87.97 L525.00,88.22 L526.00,88.51 L527.00,88.87 L528.00,89.27 L529.00,89.73 L530.00,90.24 L531.00,90.80 L532.00,91.41 L533.00,92.07 L534.00,92.77 L535.00,93.52 L536.00,94.32 L537.00,95.17 L538.00,96.05 L539.00,96.99 L540.00,97.96 L541.00,98.98 L542.00,100.03 L543.00,101.13 L544.00,102.27 L545.00,103.44 L546.00,104.65 L547.00,105.90 L548.00,107.19 L549.00,108.50 L550.00,109.85 L551.00,111.22 L552.00,112.62 L553.00,114.05 L554.00,115.49 L555.00,116.95 L556.00,118.43 L557.00,119.91 L558.00,121.41 L559.00,122.92 L560.00,124.44 L561.00,125.96 L562.00,127.48 L563.00,129.01 L564.00,130.54 L565.00,132.07 L566.00,133.60 L567.00,135.12 L568.00,136.64 L569.00,138.15 L570.00,139.66 L571.00,141.16 L572.00,142.65 L573.00,144.13 L574.00,145.59 L575.00,147.04 L576.00,148.48 L577.00,149.90 L578.00,151.30 L579.00,152.68 L580.00,154.04 L581.00,155.38 L582.00,156.70 L583.00,157.99 L584.00,159.27 L585.00,160.51 L586.00,161.74 L587.00,162.94 L588.00,164.12 L589.00,165.28 L590.00,166.42 L591.00,167.53 L592.00,168.61 L593.00,169.67 L594.00,170.71 L595.00,171.73 L596.00,172.73 L597.00,173.70 L598.00,174.65 L599.00,175.58 L600.00,176.48 L601.00,177.37 L602.00,178.24 L603.00,179.08 L604.00,179.90 L605.00,180.71 L606.00,181.49 L607.00,182.26 L608.00,183.00 L609.00,183.73 L610.00,184.44 L611.00,185.13 L612.00,185.80 L613.00,186.46 L614.00,187.09 L615.00,187.71 L616.00,188.31 L617.00,188.90 L618.00,189.47 L619.00,190.02 L620.00,190.56 L621.00,191.08 L622.00,191.59 L623.00,192.08 L624.00,192.56 L625.00,193.02 L626.00,193.47 L627.00,193.90 L628.00,194.33 L629.00,194.73 L630.00,195.13 L631.00,195.51 L632.00,195.88 L633.00,196.24 L634.00,196.58 L635.00,196.91 L636.00,197.24 L637.00,197.55 L638.00,197.85 L639.00,198.14 L640.00,198.41 L641.00,198.68 L642.00,198.94 L643.00,199.19 L644.00,199.43 L645.00,199.66 L646.00,199.88 L647.00,200.09 L648.00,200.30 L649.00,200.49 L650.00,200.68 L651.00,200.86 L652.00,201.04 L653.00,201.20 L654.00,201.36 L655.00,201.52 L656.00,201.66 L657.00,201.80 L658.00,201.94 L659.00,202.07 L660.00,202.19 L661.00,202.31 L662.00,202.43 L663.00,202.54 L664.00,202.65 L665.00,202.75 L666.00,202.85 L667.00,202.94 L668.00,203.04 L669.00,203.13 L670.00,203.21 L671.00,203.30 L672.00,203.38 L673.00,203.46" fill="none" stroke="#4485e0" stroke-width="1.15" stroke-linejoin="round"/>
<path d="M397.00,207.81 L398.00,207.92 L399.00,208.01 L400.00,208.09 L401.00,208.15 L402.00,208.20 L403.00,208.23 L404.00,208.24 L405.00,208.23 L406.00,208.22 L407.00,208.18 L408.00,208.14 L409.00,208.07 L410.00,208.00 L411.00,207.91 L412.00,207.80 L413.00,207.68 L414.00,207.55 L415.00,207.41 L416.00,207.25 L417.00,207.08 L418.00,206.90 L419.00,206.71 L420.00,206.51 L421.00,206.29 L422.00,206.06 L423.00,205.83 L424.00,205.58 L425.00,205.32 L426.00,205.05 L427.00,204.77 L428.00,204.49 L429.00,204.19 L430.00,203.88 L431.00,203.57 L432.00,203.25 L433.00,202.92 L434.00,202.58 L435.00,202.23 L436.00,201.88 L437.00,201.52 L438.00,201.15 L439.00,200.77 L440.00,200.39 L441.00,200.01 L442.00,199.62 L443.00,199.22 L444.00,198.81 L445.00,198.41 L446.00,197.99 L447.00,197.57 L448.00,197.15 L449.00,196.73 L450.00,196.30 L451.00,195.87 L452.00,195.43 L453.00,194.99 L454.00,194.55 L455.00,194.10 L456.00,193.66 L457.00,193.21 L458.00,192.76 L459.00,192.31 L460.00,191.86 L461.00,191.41 L462.00,190.95 L463.00,190.50 L464.00,190.05 L465.00,189.59 L466.00,189.14 L467.00,188.69 L468.00,188.24 L469.00,187.79 L470.00,187.34 L471.00,186.89 L472.00,186.45 L473.00,186.01 L474.00,185.57 L475.00,185.13 L476.00,184.70 L477.00,184.27 L478.00,183.85 L479.00,183.43 L480.00,183.01 L481.00,182.60 L482.00,182.20 L483.00,181.80 L484.00,181.40 L485.00,181.02 L486.00,180.63 L487.00,180.26 L488.00,179.89 L489.00,179.53 L490.00,179.18 L491.00,178.83 L492.00,178.49 L493.00,178.16 L494.00,177.84 L495.00,177.53 L496.00,177.23 L497.00,176.93 L498.00,176.65 L499.00,176.37 L500.00,176.10 L501.00,175.84 L502.00,175.58 L503.00,175.33 L504.00,175.10 L505.00,174.86 L506.00,174.64 L507.00,174.42 L508.00,174.21 L509.00,174.01 L510.00,173.82 L511.00,173.63 L512.00,173.44 L513.00,173.27 L514.00,173.10 L515.00,172.93 L516.00,172.78 L517.00,172.63 L518.00,172.48 L519.00,172.34 L520.00,172.21 L521.00,172.08 L522.00,171.95 L523.00,171.84 L524.00,171.72 L525.00,171.61 L526.00,171.51 L527.00,171.41 L528.00,171.32 L529.00,171.23 L530.00,171.14 L531.00,171.06 L532.00,170.98 L533.00,170.91 L534.00,170.84 L535.00,170.77 L536.00,170.71 L537.00,170.65 L538.00,170.59 L539.00,170.53 L540.00,170.48 L541.00,170.43 L542.00,170.38 L543.00,170.34 L544.00,170.29 L545.00,170.25 L546.00,170.21 L547.00,170.17 L548.00,170.14 L549.00,170.10 L550.00,170.06 L551.00,170.03 L552.00,170.00 L553.00,169.96 L554.00,169.93 L555.00,169.90 L556.00,169.86 L557.00,169.83 L558.00,169.80 L559.00,169.76 L560.00,169.73 L561.00,169.69 L562.00,169.66 L563.00,169.62 L564.00,169.58 L565.00,169.54 L566.00,169.50 L567.00,169.45 L568.00,169.41 L569.00,169.36 L570.00,169.31 L571.00,169.26 L572.00,169.20 L573.00,169.14 L574.00,169.08 L575.00,169.01 L576.00,168.95 L577.00,168.88 L578.00,168.80 L579.00,168.72 L580.00,168.64 L581.00,168.55 L582.00,168.46 L583.00,168.36 L584.00,168.26 L585.00,168.16 L586.00,168.05 L587.00,167.93 L588.00,167.81 L589.00,167.69 L590.00,167.56 L591.00,167.42 L592.00,167.28 L593.00,167.14 L594.00,166.99 L595.00,166.83 L596.00,166.68 L597.00,166.52 L598.00,166.35 L599.00,166.18 L600.00,166.01 L601.00,165.84 L602.00,165.66 L603.00,165.48 L604.00,165.30 L605.00,165.12 L606.00,164.93 L607.00,164.74 L608.00,164.55 L609.00,164.36 L610.00,164.17 L611.00,163.97 L612.00,163.78 L613.00,163.58 L614.00,163.38 L615.00,163.19 L616.00,162.99 L617.00,162.79 L618.00,162.59 L619.00,162.40 L620.00,162.20 L621.00,162.00 L622.00,161.81 L623.00,161.61 L624.00,161.42 L625.00,161.22 L626.00,161.03 L627.00,160.84 L628.00,160.66 L629.00,160.47 L630.00,160.28 L631.00,160.10 L632.00,159.92 L633.00,159.75 L634.00,159.57 L635.00,159.40 L636.00,159.23 L637.00,159.07 L638.00,158.90 L639.00,158.74 L640.00,158.59 L641.00,158.44 L642.00,158.29 L643.00,158.15 L644.00,158.01 L645.00,157.87 L646.00,157.74 L647.00,157.62 L648.00,157.50 L649.00,157.39 L650.00,157.28 L651.00,157.17 L652.00,157.07 L653.00,156.98 L654.00,156.89 L655.00,156.81 L656.00,156.74 L657.00,156.67 L658.00,156.61 L659.00,156.56 L660.00,156.51 L661.00,156.47 L662.00,156.44 L663.00,156.41 L664.00,156.39 L665.00,156.38 L666.00,156.38 L667.00,156.38 L668.00,156.40 L669.00,156.42 L670.00,156.45 L671.00,156.49 L672.00,156.54 L673.00,156.60 L673.20,156.61" fill="none" stroke="#4cb37b" stroke-width="1.05" stroke-linejoin="round"/>
<text x="396.50" y="239.50" text-anchor="middle" class="tl">0.000</text>
<text x="451.90" y="239.50" text-anchor="middle" class="tl">0.006</text>
<text x="507.30" y="239.50" text-anchor="middle" class="tl">0.012</text>
<text x="562.70" y="239.50" text-anchor="middle" class="tl">0.018</text>
<text x="618.10" y="239.50" text-anchor="middle" class="tl">0.024</text>
<text x="673.50" y="239.50" text-anchor="middle" class="tl">0.030</text>
<text x="391.90" y="211.40" text-anchor="end" class="tl">0.0</text>
<text x="391.90" y="174.14" text-anchor="end" class="tl">0.2</text>
<text x="391.90" y="136.88" text-anchor="end" class="tl">0.4</text>
<text x="391.90" y="99.62" text-anchor="end" class="tl">0.6</text>
<text x="391.90" y="62.36" text-anchor="end" class="tl">0.8</text>
<text x="391.90" y="25.10" text-anchor="end" class="tl">1.0</text>
<text x="535.00" y="256.80" text-anchor="middle" class="at">Time (s)</text>
<text transform="translate(375.30,115.15) rotate(-90)" text-anchor="middle" class="at2">Normalized energy</text>
<text x="367.00" y="11.90" class="pl">(b)</text>
<path d="M482.40,27.40H508.70" stroke="#626262" stroke-width="1.1"/>
<text x="511.00" y="31.00" class="lg">E<tspan class="sb" dy="3.4">k</tspan></text>
<path d="M524.80,27.40H551.10" stroke="#ec6a6e" stroke-width="1.1"/>
<text x="553.40" y="31.00" class="lg">E<tspan class="sb" dy="3.4">d</tspan></text>
<path d="M567.20,27.40H593.50" stroke="#4485e0" stroke-width="1.1"/>
<text x="595.80" y="31.00" class="lg">E<tspan class="sb" dy="3.4">s</tspan></text>
<path d="M609.60,27.40H635.90" stroke="#4cb37b" stroke-width="1.1"/>
<text x="638.20" y="31.00" class="lg">E<tspan class="sb" dy="3.4">f</tspan></text>
<text x="564.50" y="52.50" class="an">h<tspan class="sb2" dy="3.6">f</tspan><tspan dy="-3.6"> = 5 m</tspan></text>
<rect x="31.00" y="267.40" width="276.80" height="223.10" fill="none" stroke="#444" stroke-width="1"/>
<path d="M31.00,490.50V486.50M31.00,267.40V271.40M58.68,490.50V488.50M58.68,267.40V269.40M86.36,490.50V486.50M86.36,267.40V271.40M114.04,490.50V488.50M114.04,267.40V269.40M141.72,490.50V486.50M141.72,267.40V271.40M169.40,490.50V488.50M169.40,267.40V269.40M197.08,490.50V486.50M197.08,267.40V271.40M224.76,490.50V488.50M224.76,267.40V269.40M252.44,490.50V486.50M252.44,267.40V271.40M280.12,490.50V488.50M280.12,267.40V269.40M307.80,490.50V486.50M307.80,267.40V271.40M31.00,472.00H35.00M307.80,472.00H303.80M31.00,453.35H33.00M307.80,453.35H305.80M31.00,434.70H35.00M307.80,434.70H303.80M31.00,416.05H33.00M307.80,416.05H305.80M31.00,397.40H35.00M307.80,397.40H303.80M31.00,378.75H33.00M307.80,378.75H305.80M31.00,360.10H35.00M307.80,360.10H303.80M31.00,341.45H33.00M307.80,341.45H305.80M31.00,322.80H35.00M307.80,322.80H303.80M31.00,304.15H33.00M307.80,304.15H305.80M31.00,285.50H35.00M307.80,285.50H303.80" stroke="#444" stroke-width="1" fill="none"/>
<path d="M31.00,285.30 L32.00,285.44 L33.00,285.63 L34.00,285.88 L35.00,286.19 L36.00,286.55 L37.00,286.97 L38.00,287.44 L39.00,287.98 L40.00,288.56 L41.00,289.21 L42.00,289.91 L43.00,290.67 L44.00,291.49 L45.00,292.37 L46.00,293.30 L47.00,294.29 L48.00,295.33 L49.00,296.44 L50.00,297.60 L51.00,298.82 L52.00,300.10 L53.00,301.43 L54.00,302.82 L55.00,304.27 L56.00,305.78 L57.00,307.35 L58.00,308.97 L59.00,310.66 L60.00,312.40 L61.00,314.20 L62.00,316.06 L63.00,317.97 L64.00,319.95 L65.00,321.99 L66.00,324.09 L67.00,326.26 L68.00,328.50 L69.00,330.81 L70.00,333.19 L71.00,335.65 L72.00,338.18 L73.00,340.79 L74.00,343.48 L75.00,346.24 L76.00,349.01 L77.00,351.73 L78.00,354.40 L79.00,357.04 L80.00,359.64 L81.00,362.20 L82.00,364.74 L83.00,367.25 L84.00,369.74 L85.00,372.21 L86.00,374.66 L87.00,377.10 L88.00,379.54 L89.00,381.98 L90.00,384.41 L91.00,386.84 L92.00,389.27 L93.00,391.69 L94.00,394.11 L95.00,396.51 L96.00,398.90 L97.00,401.28 L98.00,403.65 L99.00,406.00 L100.00,408.32 L101.00,410.63 L102.00,412.91 L103.00,415.16 L104.00,417.39 L105.00,419.58 L106.00,421.75 L107.00,423.88 L108.00,425.97 L109.00,428.03 L110.00,430.04 L111.00,432.02 L112.00,433.95 L113.00,435.83 L114.00,437.66 L115.00,439.45 L116.00,441.18 L117.00,442.86 L118.00,444.48 L119.00,446.05 L120.00,447.57 L121.00,449.04 L122.00,450.46 L123.00,451.82 L124.00,453.14 L125.00,454.40 L126.00,455.62 L127.00,456.79 L128.00,457.91 L129.00,458.98 L130.00,460.00 L131.00,460.98 L132.00,461.91 L133.00,462.80 L134.00,463.64 L135.00,464.44 L136.00,465.19 L137.00,465.90 L138.00,466.57 L139.00,467.19 L140.00,467.77 L141.00,468.31 L142.00,468.81 L143.00,469.27 L144.00,469.69 L145.00,470.07 L146.00,470.41 L147.00,470.71 L148.00,470.97 L149.00,471.20 L150.00,471.39 L151.00,471.54 L152.00,471.66 L153.00,471.74 L154.00,471.79 L155.00,471.80 L156.00,471.78 L157.00,471.73 L158.00,471.65 L159.00,471.54 L160.00,471.39 L161.00,471.22 L162.00,471.02 L163.00,470.79 L164.00,470.53 L165.00,470.24 L166.00,469.93 L167.00,469.59 L168.00,469.23 L169.00,468.85 L170.00,468.44 L171.00,468.01 L172.00,467.56 L173.00,467.08 L174.00,466.59 L175.00,466.07 L176.00,465.54 L177.00,464.98 L178.00,464.41 L179.00,463.83 L180.00,463.22 L181.00,462.60 L182.00,461.97 L183.00,461.32 L184.00,460.66 L185.00,459.98 L186.00,459.29 L187.00,458.59 L188.00,457.88 L189.00,457.16 L190.00,456.43 L191.00,455.69 L192.00,454.95 L193.00,454.20 L194.00,453.45 L195.00,452.69 L196.00,451.93 L197.00,451.17 L198.00,450.41 L199.00,449.64 L200.00,448.88 L201.00,448.12 L202.00,447.37 L203.00,446.61 L204.00,445.87 L205.00,445.13 L206.00,444.40 L207.00,443.67 L208.00,442.96 L209.00,442.25 L210.00,441.56 L211.00,440.87 L212.00,440.20 L213.00,439.54 L214.00,438.90 L215.00,438.26 L216.00,437.63 L217.00,437.01 L218.00,436.41 L219.00,435.81 L220.00,435.22 L221.00,434.63 L222.00,434.06 L223.00,433.49 L224.00,432.93 L225.00,432.38 L226.00,431.83 L227.00,431.29 L228.00,430.75 L229.00,430.22 L230.00,429.69 L231.00,429.17 L232.00,428.65 L233.00,428.14 L234.00,427.63 L235.00,427.13 L236.00,426.63 L237.00,426.14 L238.00,425.65 L239.00,425.17 L240.00,424.70 L241.00,424.23 L242.00,423.76 L243.00,423.30 L244.00,422.85 L245.00,422.41 L246.00,421.97 L247.00,421.53 L248.00,421.10 L249.00,420.68 L250.00,420.27 L251.00,419.86 L252.00,419.45 L253.00,419.06 L254.00,418.67 L255.00,418.29 L256.00,417.91 L257.00,417.54 L258.00,417.18 L259.00,416.82 L260.00,416.47 L261.00,416.13 L262.00,415.80 L263.00,415.47 L264.00,415.15 L265.00,414.84 L266.00,414.53 L267.00,414.24 L268.00,413.95 L269.00,413.66 L270.00,413.39 L271.00,413.12 L272.00,412.87 L273.00,412.61 L274.00,412.37 L275.00,412.14 L276.00,411.91 L277.00,411.69 L278.00,411.48 L279.00,411.28 L280.00,411.09 L281.00,410.91 L282.00,410.73 L283.00,410.56 L284.00,410.40 L285.00,410.26 L286.00,410.12 L287.00,409.98 L288.00,409.86 L289.00,409.75 L290.00,409.64 L291.00,409.55 L292.00,409.46 L293.00,409.39 L294.00,409.32 L295.00,409.27 L296.00,409.22 L297.00,409.18 L298.00,409.15 L299.00,409.13 L300.00,409.13 L301.00,409.13 L302.00,409.14 L303.00,409.16 L304.00,409.20 L305.00,409.24 L306.00,409.29 L307.00,409.36 L308.00,409.43" fill="none" stroke="#626262" stroke-width="1.05" stroke-linejoin="round"/>
<path d="M31.00,472.27 L32.00,472.02 L33.00,471.77 L34.00,471.51 L35.00,471.24 L36.00,470.97 L37.00,470.69 L38.00,470.41 L39.00,470.12 L40.00,469.83 L41.00,469.54 L42.00,469.23 L43.00,468.93 L44.00,468.62 L45.00,468.30 L46.00,467.98 L47.00,467.66 L48.00,467.33 L49.00,467.00 L50.00,466.67 L51.00,466.33 L52.00,465.99 L53.00,465.64 L54.00,465.29 L55.00,464.94 L56.00,464.59 L57.00,464.23 L58.00,463.87 L59.00,463.51 L60.00,463.15 L61.00,462.78 L62.00,462.41 L63.00,462.04 L64.00,461.67 L65.00,461.30 L66.00,460.92 L67.00,460.55 L68.00,460.17 L69.00,459.79 L70.00,459.41 L71.00,459.03 L72.00,458.65 L73.00,458.26 L74.00,457.88 L75.00,457.50 L76.00,457.12 L77.00,456.73 L78.00,456.35 L79.00,455.97 L80.00,455.59 L81.00,455.20 L82.00,454.82 L83.00,454.44 L84.00,454.06 L85.00,453.69 L86.00,453.31 L87.00,452.93 L88.00,452.56 L89.00,452.19 L90.00,451.82 L91.00,451.45 L92.00,451.08 L93.00,450.71 L94.00,450.35 L95.00,449.99 L96.00,449.63 L97.00,449.28 L98.00,448.93 L99.00,448.58 L100.00,448.23 L101.00,447.89 L102.00,447.55 L103.00,447.21 L104.00,446.88 L105.00,446.55 L106.00,446.22 L107.00,445.90 L108.00,445.59 L109.00,445.27 L110.00,444.97 L111.00,444.66 L112.00,444.36 L113.00,444.07 L114.00,443.78 L115.00,443.50 L116.00,443.22 L117.00,442.95 L118.00,442.68 L119.00,442.42 L120.00,442.16 L121.00,441.91 L122.00,441.66 L123.00,441.42 L124.00,441.19 L125.00,440.96 L126.00,440.74 L127.00,440.52 L128.00,440.31 L129.00,440.10 L130.00,439.89 L131.00,439.70 L132.00,439.50 L133.00,439.31 L134.00,439.13 L135.00,438.95 L136.00,438.77 L137.00,438.60 L138.00,438.44 L139.00,438.27 L140.00,438.12 L141.00,437.96 L142.00,437.81 L143.00,437.67 L144.00,437.53 L145.00,437.39 L146.00,437.25 L147.00,437.12 L148.00,437.00 L149.00,436.88 L150.00,436.76 L151.00,436.64 L152.00,436.53 L153.00,436.42 L154.00,436.31 L155.00,436.21 L156.00,436.11 L157.00,436.01 L158.00,435.92 L159.00,435.83 L160.00,435.74 L161.00,435.65 L162.00,435.57 L163.00,435.49 L164.00,435.41 L165.00,435.33 L166.00,435.26 L167.00,435.19 L168.00,435.12 L169.00,435.05 L170.00,434.99 L171.00,434.92 L172.00,434.86 L173.00,434.80 L174.00,434.75 L175.00,434.69 L176.00,434.64 L177.00,434.58 L178.00,434.53 L179.00,434.48 L180.00,434.43 L181.00,434.39 L182.00,434.34 L183.00,434.30 L184.00,434.25 L185.00,434.21 L186.00,434.17 L187.00,434.12 L188.00,434.08 L189.00,434.04 L190.00,434.00 L191.00,433.96 L192.00,433.93 L193.00,433.89 L194.00,433.85 L195.00,433.81 L196.00,433.77 L197.00,433.73 L198.00,433.70 L199.00,433.66 L200.00,433.62 L201.00,433.58 L202.00,433.54 L203.00,433.50 L204.00,433.47 L205.00,433.43 L206.00,433.38 L207.00,433.34 L208.00,433.30 L209.00,433.26 L210.00,433.22 L211.00,433.17 L212.00,433.13 L213.00,433.08 L214.00,433.04 L215.00,432.99 L216.00,432.95 L217.00,432.90 L218.00,432.85 L219.00,432.81 L220.00,432.76 L221.00,432.71 L222.00,432.66 L223.00,432.61 L224.00,432.56 L225.00,432.51 L226.00,432.46 L227.00,432.41 L228.00,432.35 L229.00,432.30 L230.00,432.25 L231.00,432.19 L232.00,432.14 L233.00,432.09 L234.00,432.03 L235.00,431.97 L236.00,431.92 L237.00,431.86 L238.00,431.80 L239.00,431.75 L240.00,431.69 L241.00,431.63 L242.00,431.57 L243.00,431.51 L244.00,431.45 L245.00,431.39 L246.00,431.33 L247.00,431.27 L248.00,431.21 L249.00,431.14 L250.00,431.08 L251.00,431.02 L252.00,430.95 L253.00,430.89 L254.00,430.83 L255.00,430.76 L256.00,430.69 L257.00,430.63 L258.00,430.56 L259.00,430.50 L260.00,430.43 L261.00,430.36 L262.00,430.29 L263.00,430.22 L264.00,430.16 L265.00,430.09 L266.00,430.02 L267.00,429.95 L268.00,429.88 L269.00,429.80 L270.00,429.73 L271.00,429.66 L272.00,429.59 L273.00,429.52 L274.00,429.44 L275.00,429.37 L276.00,429.30 L277.00,429.22 L278.00,429.15 L279.00,429.07 L280.00,429.00 L281.00,428.92 L282.00,428.85 L283.00,428.77 L284.00,428.69 L285.00,428.61 L286.00,428.54 L287.00,428.46 L288.00,428.38 L289.00,428.30 L290.00,428.22 L291.00,428.14 L292.00,428.06 L293.00,427.98 L294.00,427.90 L295.00,427.82 L296.00,427.74 L297.00,427.66 L298.00,427.58 L299.00,427.50 L300.00,427.41 L301.00,427.33 L302.00,427.25 L303.00,427.16 L304.00,427.08 L305.00,427.00 L306.00,426.91 L307.00,426.83 L308.00,426.74" fill="none" stroke="#ec6a6e" stroke-width="1.05" stroke-linejoin="round"/>
<path d="M31.00,471.70 L32.00,471.75 L33.00,471.76 L34.00,471.73 L35.00,471.66 L36.00,471.55 L37.00,471.41 L38.00,471.22 L39.00,471.00 L40.00,470.74 L41.00,470.44 L42.00,470.11 L43.00,469.73 L44.00,469.33 L45.00,468.88 L46.00,468.40 L47.00,467.88 L48.00,467.33 L49.00,466.74 L50.00,466.12 L51.00,465.46 L52.00,464.77 L53.00,464.04 L54.00,463.28 L55.00,462.49 L56.00,461.66 L57.00,460.80 L58.00,459.91 L59.00,458.99 L60.00,458.03 L61.00,457.04 L62.00,456.02 L63.00,454.97 L64.00,453.90 L65.00,452.79 L66.00,451.66 L67.00,450.50 L68.00,449.31 L69.00,448.11 L70.00,446.88 L71.00,445.63 L72.00,444.35 L73.00,443.06 L74.00,441.75 L75.00,440.42 L76.00,439.08 L77.00,437.73 L78.00,436.37 L79.00,434.99 L80.00,433.61 L81.00,432.23 L82.00,430.84 L83.00,429.45 L84.00,428.06 L85.00,426.67 L86.00,425.29 L87.00,423.91 L88.00,422.54 L89.00,421.18 L90.00,419.83 L91.00,418.49 L92.00,417.16 L93.00,415.85 L94.00,414.54 L95.00,413.26 L96.00,411.99 L97.00,410.73 L98.00,409.49 L99.00,408.27 L100.00,407.06 L101.00,405.87 L102.00,404.69 L103.00,403.53 L104.00,402.38 L105.00,401.25 L106.00,400.13 L107.00,399.03 L108.00,397.94 L109.00,396.86 L110.00,395.80 L111.00,394.75 L112.00,393.72 L113.00,392.70 L114.00,391.69 L115.00,390.69 L116.00,389.71 L117.00,388.73 L118.00,387.77 L119.00,386.83 L120.00,385.90 L121.00,384.99 L122.00,384.09 L123.00,383.21 L124.00,382.35 L125.00,381.51 L126.00,380.68 L127.00,379.88 L128.00,379.10 L129.00,378.34 L130.00,377.60 L131.00,376.89 L132.00,376.20 L133.00,375.54 L134.00,374.90 L135.00,374.29 L136.00,373.70 L137.00,373.15 L138.00,372.62 L139.00,372.12 L140.00,371.65 L141.00,371.22 L142.00,370.81 L143.00,370.43 L144.00,370.09 L145.00,369.77 L146.00,369.49 L147.00,369.25 L148.00,369.03 L149.00,368.85 L150.00,368.70 L151.00,368.58 L152.00,368.50 L153.00,368.45 L154.00,368.44 L155.00,368.46 L156.00,368.52 L157.00,368.61 L158.00,368.74 L159.00,368.91 L160.00,369.11 L161.00,369.35 L162.00,369.62 L163.00,369.94 L164.00,370.29 L165.00,370.68 L166.00,371.11 L167.00,371.58 L168.00,372.09 L169.00,372.64 L170.00,373.22 L171.00,373.84 L172.00,374.49 L173.00,375.18 L174.00,375.90 L175.00,376.66 L176.00,377.44 L177.00,378.25 L178.00,379.09 L179.00,379.96 L180.00,380.85 L181.00,381.77 L182.00,382.71 L183.00,383.67 L184.00,384.65 L185.00,385.66 L186.00,386.68 L187.00,387.72 L188.00,388.78 L189.00,389.85 L190.00,390.93 L191.00,392.03 L192.00,393.14 L193.00,394.27 L194.00,395.40 L195.00,396.54 L196.00,397.68 L197.00,398.84 L198.00,399.99 L199.00,401.16 L200.00,402.32 L201.00,403.49 L202.00,404.65 L203.00,405.82 L204.00,406.98 L205.00,408.14 L206.00,409.30 L207.00,410.45 L208.00,411.59 L209.00,412.73 L210.00,413.86 L211.00,414.99 L212.00,416.11 L213.00,417.21 L214.00,418.31 L215.00,419.40 L216.00,420.47 L217.00,421.54 L218.00,422.59 L219.00,423.62 L220.00,424.65 L221.00,425.65 L222.00,426.65 L223.00,427.62 L224.00,428.58 L225.00,429.52 L226.00,430.44 L227.00,431.34 L228.00,432.23 L229.00,433.09 L230.00,433.93 L231.00,434.75 L232.00,435.55 L233.00,436.33 L234.00,437.09 L235.00,437.84 L236.00,438.56 L237.00,439.27 L238.00,439.96 L239.00,440.64 L240.00,441.30 L241.00,441.94 L242.00,442.56 L243.00,443.17 L244.00,443.77 L245.00,444.35 L246.00,444.92 L247.00,445.47 L248.00,446.02 L249.00,446.54 L250.00,447.06 L251.00,447.56 L252.00,448.06 L253.00,448.54 L254.00,449.01 L255.00,449.47 L256.00,449.92 L257.00,450.36 L258.00,450.80 L259.00,451.22 L260.00,451.64 L261.00,452.04 L262.00,452.44 L263.00,452.84 L264.00,453.22 L265.00,453.60 L266.00,453.98 L267.00,454.35 L268.00,454.71 L269.00,455.07 L270.00,455.42 L271.00,455.77 L272.00,456.11 L273.00,456.46 L274.00,456.79 L275.00,457.13 L276.00,457.46 L277.00,457.80 L278.00,458.13 L279.00,458.45 L280.00,458.78 L281.00,459.11 L282.00,459.44 L283.00,459.77 L284.00,460.09 L285.00,460.42 L286.00,460.75 L287.00,461.08 L288.00,461.42 L289.00,461.75 L290.00,462.07 L291.00,462.40 L292.00,462.73 L293.00,463.05 L294.00,463.37 L295.00,463.69 L296.00,464.01 L297.00,464.32 L298.00,464.62 L299.00,464.92 L300.00,465.22 L301.00,465.51 L302.00,465.79 L303.00,466.06 L304.00,466.33 L305.00,466.60 L306.00,466.85 L307.00,467.09 L308.00,467.33" fill="none" stroke="#4485e0" stroke-width="1.15" stroke-linejoin="round"/>
<path d="M31.00,471.46 L32.00,471.58 L33.00,471.69 L34.00,471.78 L35.00,471.84 L36.00,471.89 L37.00,471.91 L38.00,471.92 L39.00,471.91 L40.00,471.88 L41.00,471.83 L42.00,471.76 L43.00,471.68 L44.00,471.57 L45.00,471.46 L46.00,471.32 L47.00,471.17 L48.00,471.00 L49.00,470.82 L50.00,470.62 L51.00,470.40 L52.00,470.17 L53.00,469.93 L54.00,469.67 L55.00,469.40 L56.00,469.12 L57.00,468.82 L58.00,468.51 L59.00,468.18 L60.00,467.85 L61.00,467.50 L62.00,467.14 L63.00,466.77 L64.00,466.39 L65.00,465.99 L66.00,465.59 L67.00,465.18 L68.00,464.75 L69.00,464.32 L70.00,463.88 L71.00,463.43 L72.00,462.97 L73.00,462.51 L74.00,462.03 L75.00,461.55 L76.00,461.06 L77.00,460.57 L78.00,460.06 L79.00,459.55 L80.00,459.04 L81.00,458.52 L82.00,457.99 L83.00,457.46 L84.00,456.93 L85.00,456.39 L86.00,455.85 L87.00,455.30 L88.00,454.75 L89.00,454.20 L90.00,453.64 L91.00,453.08 L92.00,452.52 L93.00,451.96 L94.00,451.39 L95.00,450.83 L96.00,450.26 L97.00,449.69 L98.00,449.13 L99.00,448.56 L100.00,447.99 L101.00,447.43 L102.00,446.86 L103.00,446.30 L104.00,445.74 L105.00,445.18 L106.00,444.62 L107.00,444.07 L108.00,443.52 L109.00,442.97 L110.00,442.42 L111.00,441.88 L112.00,441.35 L113.00,440.81 L114.00,440.29 L115.00,439.76 L116.00,439.25 L117.00,438.74 L118.00,438.23 L119.00,437.73 L120.00,437.24 L121.00,436.76 L122.00,436.28 L123.00,435.81 L124.00,435.35 L125.00,434.90 L126.00,434.45 L127.00,434.02 L128.00,433.59 L129.00,433.18 L130.00,432.77 L131.00,432.37 L132.00,431.99 L133.00,431.61 L134.00,431.25 L135.00,430.90 L136.00,430.56 L137.00,430.23 L138.00,429.91 L139.00,429.61 L140.00,429.32 L141.00,429.05 L142.00,428.78 L143.00,428.53 L144.00,428.29 L145.00,428.07 L146.00,427.85 L147.00,427.65 L148.00,427.46 L149.00,427.28 L150.00,427.10 L151.00,426.94 L152.00,426.79 L153.00,426.65 L154.00,426.51 L155.00,426.39 L156.00,426.27 L157.00,426.16 L158.00,426.06 L159.00,425.97 L160.00,425.88 L161.00,425.80 L162.00,425.72 L163.00,425.65 L164.00,425.59 L165.00,425.53 L166.00,425.48 L167.00,425.43 L168.00,425.38 L169.00,425.34 L170.00,425.30 L171.00,425.27 L172.00,425.23 L173.00,425.20 L174.00,425.17 L175.00,425.15 L176.00,425.12 L177.00,425.10 L178.00,425.07 L179.00,425.05 L180.00,425.02 L181.00,425.00 L182.00,424.97 L183.00,424.94 L184.00,424.92 L185.00,424.89 L186.00,424.85 L187.00,424.82 L188.00,424.78 L189.00,424.74 L190.00,424.70 L191.00,424.65 L192.00,424.60 L193.00,424.55 L194.00,424.50 L195.00,424.44 L196.00,424.38 L197.00,424.32 L198.00,424.26 L199.00,424.19 L200.00,424.12 L201.00,424.05 L202.00,423.98 L203.00,423.90 L204.00,423.82 L205.00,423.74 L206.00,423.65 L207.00,423.56 L208.00,423.47 L209.00,423.38 L210.00,423.29 L211.00,423.19 L212.00,423.09 L213.00,422.99 L214.00,422.88 L215.00,422.77 L216.00,422.66 L217.00,422.55 L218.00,422.43 L219.00,422.31 L220.00,422.19 L221.00,422.07 L222.00,421.94 L223.00,421.82 L224.00,421.69 L225.00,421.55 L226.00,421.42 L227.00,421.28 L228.00,421.14 L229.00,420.99 L230.00,420.85 L231.00,420.70 L232.00,420.55 L233.00,420.39 L234.00,420.24 L235.00,420.08 L236.00,419.92 L237.00,419.75 L238.00,419.59 L239.00,419.42 L240.00,419.25 L241.00,419.07 L242.00,418.90 L243.00,418.72 L244.00,418.54 L245.00,418.35 L246.00,418.17 L247.00,417.98 L248.00,417.79 L249.00,417.60 L250.00,417.40 L251.00,417.21 L252.00,417.01 L253.00,416.81 L254.00,416.61 L255.00,416.41 L256.00,416.21 L257.00,416.01 L258.00,415.81 L259.00,415.61 L260.00,415.41 L261.00,415.21 L262.00,415.01 L263.00,414.81 L264.00,414.61 L265.00,414.41 L266.00,414.22 L267.00,414.02 L268.00,413.83 L269.00,413.64 L270.00,413.45 L271.00,413.26 L272.00,413.08 L273.00,412.89 L274.00,412.71 L275.00,412.54 L276.00,412.36 L277.00,412.19 L278.00,412.03 L279.00,411.86 L280.00,411.70 L281.00,411.55 L282.00,411.40 L283.00,411.25 L284.00,411.11 L285.00,410.97 L286.00,410.84 L287.00,410.71 L288.00,410.59 L289.00,410.47 L290.00,410.36 L291.00,410.26 L292.00,410.16 L293.00,410.06 L294.00,409.98 L295.00,409.90 L296.00,409.83 L297.00,409.76 L298.00,409.70 L299.00,409.65 L300.00,409.61 L301.00,409.57 L302.00,409.54 L303.00,409.52 L304.00,409.51 L305.00,409.51 L306.00,409.51 L307.00,409.53 L308.00,409.55" fill="none" stroke="#4cb37b" stroke-width="1.05" stroke-linejoin="round"/>
<text x="31.00" y="503.20" text-anchor="middle" class="tl">0.000</text>
<text x="86.36" y="503.20" text-anchor="middle" class="tl">0.006</text>
<text x="141.72" y="503.20" text-anchor="middle" class="tl">0.012</text>
<text x="197.08" y="503.20" text-anchor="middle" class="tl">0.018</text>
<text x="252.44" y="503.20" text-anchor="middle" class="tl">0.024</text>
<text x="307.80" y="503.20" text-anchor="middle" class="tl">0.030</text>
<text x="26.40" y="475.30" text-anchor="end" class="tl">0.0</text>
<text x="26.40" y="438.00" text-anchor="end" class="tl">0.2</text>
<text x="26.40" y="400.70" text-anchor="end" class="tl">0.4</text>
<text x="26.40" y="363.40" text-anchor="end" class="tl">0.6</text>
<text x="26.40" y="326.10" text-anchor="end" class="tl">0.8</text>
<text x="26.40" y="288.80" text-anchor="end" class="tl">1.0</text>
<text x="169.40" y="520.50" text-anchor="middle" class="at">Time (s)</text>
<text transform="translate(9.80,378.95) rotate(-90)" text-anchor="middle" class="at2">Normalized energy</text>
<text x="1.50" y="275.80" class="pl">(c)</text>
<path d="M123.80,289.85H150.10" stroke="#626262" stroke-width="1.1"/>
<text x="152.40" y="293.45" class="lg">E<tspan class="sb" dy="3.4">k</tspan></text>
<path d="M166.20,289.85H192.50" stroke="#ec6a6e" stroke-width="1.1"/>
<text x="194.80" y="293.45" class="lg">E<tspan class="sb" dy="3.4">d</tspan></text>
<path d="M208.60,289.85H234.90" stroke="#4485e0" stroke-width="1.1"/>
<text x="237.20" y="293.45" class="lg">E<tspan class="sb" dy="3.4">s</tspan></text>
<path d="M251.00,289.85H277.30" stroke="#4cb37b" stroke-width="1.1"/>
<text x="279.60" y="293.45" class="lg">E<tspan class="sb" dy="3.4">f</tspan></text>
<text x="199.00" y="316.00" class="an">h<tspan class="sb2" dy="3.6">f</tspan><tspan dy="-3.6"> = 11.25 m</tspan></text>
<rect x="396.50" y="267.40" width="277.00" height="223.10" fill="none" stroke="#444" stroke-width="1"/>
<path d="M396.50,490.50V486.50M396.50,267.40V271.40M424.20,490.50V488.50M424.20,267.40V269.40M451.90,490.50V486.50M451.90,267.40V271.40M479.60,490.50V488.50M479.60,267.40V269.40M507.30,490.50V486.50M507.30,267.40V271.40M535.00,490.50V488.50M535.00,267.40V269.40M562.70,490.50V486.50M562.70,267.40V271.40M590.40,490.50V488.50M590.40,267.40V269.40M618.10,490.50V486.50M618.10,267.40V271.40M645.80,490.50V488.50M645.80,267.40V269.40M673.50,490.50V486.50M673.50,267.40V271.40M396.50,472.00H400.50M673.50,472.00H669.50M396.50,453.35H398.50M673.50,453.35H671.50M396.50,434.70H400.50M673.50,434.70H669.50M396.50,416.05H398.50M673.50,416.05H671.50M396.50,397.40H400.50M673.50,397.40H669.50M396.50,378.75H398.50M673.50,378.75H671.50M396.50,360.10H400.50M673.50,360.10H669.50M396.50,341.45H398.50M673.50,341.45H671.50M396.50,322.80H400.50M673.50,322.80H669.50M396.50,304.15H398.50M673.50,304.15H671.50M396.50,285.50H400.50M673.50,285.50H669.50" stroke="#444" stroke-width="1" fill="none"/>
<path d="M397.00,285.79 L398.00,285.80 L399.00,285.91 L400.00,286.13 L401.00,286.46 L402.00,286.88 L403.00,287.39 L404.00,288.00 L405.00,288.71 L406.00,289.50 L407.00,290.38 L408.00,291.34 L409.00,292.39 L410.00,293.52 L411.00,294.72 L412.00,296.00 L413.00,297.35 L414.00,298.77 L415.00,300.26 L416.00,301.81 L417.00,303.43 L418.00,305.10 L419.00,306.84 L420.00,308.63 L421.00,310.47 L422.00,312.35 L423.00,314.27 L424.00,316.22 L425.00,318.18 L426.00,320.16 L427.00,322.15 L428.00,324.13 L429.00,326.11 L430.00,328.07 L431.00,330.01 L432.00,331.91 L433.00,333.79 L434.00,335.64 L435.00,337.47 L436.00,339.28 L437.00,341.08 L438.00,342.86 L439.00,344.64 L440.00,346.41 L441.00,348.19 L442.00,349.96 L443.00,351.75 L444.00,353.54 L445.00,355.34 L446.00,357.16 L447.00,358.99 L448.00,360.84 L449.00,362.70 L450.00,364.58 L451.00,366.49 L452.00,368.42 L453.00,370.37 L454.00,372.34 L455.00,374.35 L456.00,376.39 L457.00,378.45 L458.00,380.55 L459.00,382.68 L460.00,384.84 L461.00,387.02 L462.00,389.21 L463.00,391.43 L464.00,393.65 L465.00,395.89 L466.00,398.12 L467.00,400.36 L468.00,402.59 L469.00,404.82 L470.00,407.03 L471.00,409.23 L472.00,411.40 L473.00,413.56 L474.00,415.68 L475.00,417.78 L476.00,419.84 L477.00,421.86 L478.00,423.84 L479.00,425.78 L480.00,427.67 L481.00,429.52 L482.00,431.33 L483.00,433.09 L484.00,434.82 L485.00,436.49 L486.00,438.13 L487.00,439.72 L488.00,441.28 L489.00,442.79 L490.00,444.26 L491.00,445.69 L492.00,447.07 L493.00,448.42 L494.00,449.73 L495.00,450.99 L496.00,452.22 L497.00,453.40 L498.00,454.55 L499.00,455.65 L500.00,456.72 L501.00,457.75 L502.00,458.73 L503.00,459.68 L504.00,460.59 L505.00,461.47 L506.00,462.30 L507.00,463.10 L508.00,463.85 L509.00,464.57 L510.00,465.26 L511.00,465.90 L512.00,466.51 L513.00,467.09 L514.00,467.63 L515.00,468.13 L516.00,468.60 L517.00,469.04 L518.00,469.45 L519.00,469.82 L520.00,470.17 L521.00,470.48 L522.00,470.76 L523.00,471.01 L524.00,471.24 L525.00,471.43 L526.00,471.60 L527.00,471.75 L528.00,471.86 L529.00,471.95 L530.00,472.02 L531.00,472.06 L532.00,472.08 L533.00,472.08 L534.00,472.05 L535.00,472.00 L536.00,471.93 L537.00,471.85 L538.00,471.74 L539.00,471.61 L540.00,471.46 L541.00,471.29 L542.00,471.11 L543.00,470.91 L544.00,470.69 L545.00,470.45 L546.00,470.19 L547.00,469.92 L548.00,469.63 L549.00,469.32 L550.00,469.00 L551.00,468.66 L552.00,468.31 L553.00,467.94 L554.00,467.56 L555.00,467.16 L556.00,466.75 L557.00,466.32 L558.00,465.88 L559.00,465.43 L560.00,464.96 L561.00,464.48 L562.00,463.99 L563.00,463.49 L564.00,462.97 L565.00,462.45 L566.00,461.91 L567.00,461.36 L568.00,460.80 L569.00,460.23 L570.00,459.65 L571.00,459.06 L572.00,458.46 L573.00,457.85 L574.00,457.24 L575.00,456.62 L576.00,455.99 L577.00,455.36 L578.00,454.73 L579.00,454.09 L580.00,453.45 L581.00,452.82 L582.00,452.18 L583.00,451.54 L584.00,450.90 L585.00,450.27 L586.00,449.64 L587.00,449.02 L588.00,448.40 L589.00,447.78 L590.00,447.17 L591.00,446.57 L592.00,445.98 L593.00,445.40 L594.00,444.83 L595.00,444.27 L596.00,443.72 L597.00,443.19 L598.00,442.67 L599.00,442.16 L600.00,441.67 L601.00,441.20 L602.00,440.74 L603.00,440.29 L604.00,439.86 L605.00,439.44 L606.00,439.03 L607.00,438.64 L608.00,438.25 L609.00,437.88 L610.00,437.51 L611.00,437.15 L612.00,436.81 L613.00,436.47 L614.00,436.13 L615.00,435.80 L616.00,435.48 L617.00,435.16 L618.00,434.85 L619.00,434.54 L620.00,434.23 L621.00,433.93 L622.00,433.63 L623.00,433.32 L624.00,433.02 L625.00,432.72 L626.00,432.42 L627.00,432.12 L628.00,431.82 L629.00,431.52 L630.00,431.22 L631.00,430.93 L632.00,430.63 L633.00,430.34 L634.00,430.06 L635.00,429.77 L636.00,429.49 L637.00,429.22 L638.00,428.94 L639.00,428.67 L640.00,428.41 L641.00,428.15 L642.00,427.90 L643.00,427.65 L644.00,427.41 L645.00,427.17 L646.00,426.94 L647.00,426.72 L648.00,426.51 L649.00,426.30 L650.00,426.10 L651.00,425.91 L652.00,425.73 L653.00,425.55 L654.00,425.39 L655.00,425.23 L656.00,425.08 L657.00,424.95 L658.00,424.82 L659.00,424.71 L660.00,424.60 L661.00,424.51 L662.00,424.43 L663.00,424.36 L664.00,424.30 L665.00,424.25 L666.00,424.22 L667.00,424.20 L668.00,424.20 L669.00,424.20 L670.00,424.23 L671.00,424.26 L672.00,424.31 L673.00,424.38" fill="none" stroke="#626262" stroke-width="1.05" stroke-linejoin="round"/>
<path d="M397.00,472.35 L398.00,472.02 L399.00,471.69 L400.00,471.36 L401.00,471.02 L402.00,470.68 L403.00,470.34 L404.00,470.00 L405.00,469.66 L406.00,469.31 L407.00,468.96 L408.00,468.61 L409.00,468.26 L410.00,467.91 L411.00,467.55 L412.00,467.19 L413.00,466.83 L414.00,466.47 L415.00,466.11 L416.00,465.75 L417.00,465.38 L418.00,465.02 L419.00,464.65 L420.00,464.28 L421.00,463.91 L422.00,463.54 L423.00,463.17 L424.00,462.80 L425.00,462.42 L426.00,462.05 L427.00,461.67 L428.00,461.30 L429.00,460.92 L430.00,460.55 L431.00,460.17 L432.00,459.79 L433.00,459.41 L434.00,459.03 L435.00,458.66 L436.00,458.28 L437.00,457.90 L438.00,457.52 L439.00,457.14 L440.00,456.76 L441.00,456.38 L442.00,456.00 L443.00,455.63 L444.00,455.25 L445.00,454.87 L446.00,454.49 L447.00,454.12 L448.00,453.74 L449.00,453.37 L450.00,452.99 L451.00,452.62 L452.00,452.25 L453.00,451.88 L454.00,451.50 L455.00,451.13 L456.00,450.77 L457.00,450.40 L458.00,450.03 L459.00,449.67 L460.00,449.30 L461.00,448.94 L462.00,448.58 L463.00,448.22 L464.00,447.86 L465.00,447.51 L466.00,447.15 L467.00,446.80 L468.00,446.45 L469.00,446.10 L470.00,445.76 L471.00,445.41 L472.00,445.07 L473.00,444.73 L474.00,444.39 L475.00,444.06 L476.00,443.72 L477.00,443.39 L478.00,443.06 L479.00,442.74 L480.00,442.42 L481.00,442.10 L482.00,441.78 L483.00,441.46 L484.00,441.15 L485.00,440.84 L486.00,440.54 L487.00,440.23 L488.00,439.93 L489.00,439.64 L490.00,439.35 L491.00,439.06 L492.00,438.77 L493.00,438.49 L494.00,438.21 L495.00,437.93 L496.00,437.66 L497.00,437.39 L498.00,437.13 L499.00,436.86 L500.00,436.61 L501.00,436.35 L502.00,436.11 L503.00,435.86 L504.00,435.62 L505.00,435.38 L506.00,435.15 L507.00,434.92 L508.00,434.70 L509.00,434.48 L510.00,434.27 L511.00,434.06 L512.00,433.85 L513.00,433.65 L514.00,433.46 L515.00,433.27 L516.00,433.08 L517.00,432.90 L518.00,432.72 L519.00,432.55 L520.00,432.39 L521.00,432.23 L522.00,432.07 L523.00,431.92 L524.00,431.78 L525.00,431.64 L526.00,431.51 L527.00,431.38 L528.00,431.26 L529.00,431.14 L530.00,431.03 L531.00,430.92 L532.00,430.82 L533.00,430.73 L534.00,430.64 L535.00,430.55 L536.00,430.47 L537.00,430.39 L538.00,430.32 L539.00,430.25 L540.00,430.19 L541.00,430.13 L542.00,430.07 L543.00,430.02 L544.00,429.97 L545.00,429.92 L546.00,429.88 L547.00,429.83 L548.00,429.80 L549.00,429.76 L550.00,429.73 L551.00,429.70 L552.00,429.67 L553.00,429.65 L554.00,429.62 L555.00,429.60 L556.00,429.58 L557.00,429.57 L558.00,429.55 L559.00,429.53 L560.00,429.52 L561.00,429.51 L562.00,429.50 L563.00,429.49 L564.00,429.48 L565.00,429.47 L566.00,429.46 L567.00,429.45 L568.00,429.44 L569.00,429.43 L570.00,429.42 L571.00,429.41 L572.00,429.40 L573.00,429.39 L574.00,429.38 L575.00,429.37 L576.00,429.35 L577.00,429.34 L578.00,429.32 L579.00,429.31 L580.00,429.29 L581.00,429.27 L582.00,429.25 L583.00,429.22 L584.00,429.20 L585.00,429.17 L586.00,429.14 L587.00,429.11 L588.00,429.07 L589.00,429.03 L590.00,428.99 L591.00,428.95 L592.00,428.91 L593.00,428.87 L594.00,428.82 L595.00,428.77 L596.00,428.72 L597.00,428.67 L598.00,428.61 L599.00,428.56 L600.00,428.50 L601.00,428.44 L602.00,428.38 L603.00,428.32 L604.00,428.26 L605.00,428.20 L606.00,428.13 L607.00,428.06 L608.00,428.00 L609.00,427.93 L610.00,427.86 L611.00,427.79 L612.00,427.71 L613.00,427.64 L614.00,427.57 L615.00,427.49 L616.00,427.41 L617.00,427.34 L618.00,427.26 L619.00,427.18 L620.00,427.10 L621.00,427.02 L622.00,426.94 L623.00,426.86 L624.00,426.78 L625.00,426.70 L626.00,426.62 L627.00,426.54 L628.00,426.45 L629.00,426.37 L630.00,426.29 L631.00,426.21 L632.00,426.12 L633.00,426.04 L634.00,425.96 L635.00,425.87 L636.00,425.79 L637.00,425.71 L638.00,425.63 L639.00,425.54 L640.00,425.46 L641.00,425.38 L642.00,425.30 L643.00,425.22 L644.00,425.14 L645.00,425.06 L646.00,424.98 L647.00,424.90 L648.00,424.82 L649.00,424.74 L650.00,424.66 L651.00,424.59 L652.00,424.51 L653.00,424.44 L654.00,424.37 L655.00,424.29 L656.00,424.22 L657.00,424.15 L658.00,424.08 L659.00,424.01 L660.00,423.95 L661.00,423.88 L662.00,423.82 L663.00,423.75 L664.00,423.69 L665.00,423.63 L666.00,423.57 L667.00,423.52 L668.00,423.46 L669.00,423.41 L670.00,423.35 L671.00,423.30 L672.00,423.26 L673.00,423.21" fill="none" stroke="#ec6a6e" stroke-width="1.05" stroke-linejoin="round"/>
<path d="M397.00,471.70 L398.00,471.51 L399.00,471.33 L400.00,471.17 L401.00,471.02 L402.00,470.86 L403.00,470.70 L404.00,470.52 L405.00,470.33 L406.00,470.11 L407.00,469.86 L408.00,469.58 L409.00,469.25 L410.00,468.87 L411.00,468.44 L412.00,467.95 L413.00,467.39 L414.00,466.76 L415.00,466.05 L416.00,465.27 L417.00,464.43 L418.00,463.54 L419.00,462.61 L420.00,461.65 L421.00,460.67 L422.00,459.68 L423.00,458.69 L424.00,457.72 L425.00,456.76 L426.00,455.83 L427.00,454.94 L428.00,454.07 L429.00,453.24 L430.00,452.42 L431.00,451.62 L432.00,450.85 L433.00,450.08 L434.00,449.33 L435.00,448.59 L436.00,447.85 L437.00,447.12 L438.00,446.38 L439.00,445.65 L440.00,444.91 L441.00,444.16 L442.00,443.40 L443.00,442.62 L444.00,441.83 L445.00,441.03 L446.00,440.21 L447.00,439.37 L448.00,438.52 L449.00,437.66 L450.00,436.78 L451.00,435.89 L452.00,434.99 L453.00,434.08 L454.00,433.16 L455.00,432.23 L456.00,431.29 L457.00,430.35 L458.00,429.39 L459.00,428.43 L460.00,427.46 L461.00,426.49 L462.00,425.51 L463.00,424.53 L464.00,423.54 L465.00,422.55 L466.00,421.56 L467.00,420.57 L468.00,419.58 L469.00,418.58 L470.00,417.59 L471.00,416.60 L472.00,415.61 L473.00,414.62 L474.00,413.63 L475.00,412.65 L476.00,411.68 L477.00,410.70 L478.00,409.74 L479.00,408.78 L480.00,407.82 L481.00,406.88 L482.00,405.94 L483.00,405.01 L484.00,404.09 L485.00,403.18 L486.00,402.28 L487.00,401.40 L488.00,400.52 L489.00,399.66 L490.00,398.81 L491.00,397.98 L492.00,397.16 L493.00,396.36 L494.00,395.57 L495.00,394.80 L496.00,394.04 L497.00,393.31 L498.00,392.59 L499.00,391.89 L500.00,391.22 L501.00,390.56 L502.00,389.92 L503.00,389.31 L504.00,388.72 L505.00,388.14 L506.00,387.59 L507.00,387.06 L508.00,386.56 L509.00,386.07 L510.00,385.60 L511.00,385.16 L512.00,384.74 L513.00,384.34 L514.00,383.97 L515.00,383.62 L516.00,383.28 L517.00,382.98 L518.00,382.69 L519.00,382.43 L520.00,382.19 L521.00,381.97 L522.00,381.78 L523.00,381.61 L524.00,381.46 L525.00,381.34 L526.00,381.24 L527.00,381.16 L528.00,381.11 L529.00,381.08 L530.00,381.08 L531.00,381.10 L532.00,381.14 L533.00,381.21 L534.00,381.30 L535.00,381.42 L536.00,381.56 L537.00,381.73 L538.00,381.92 L539.00,382.13 L540.00,382.38 L541.00,382.64 L542.00,382.94 L543.00,383.25 L544.00,383.60 L545.00,383.97 L546.00,384.36 L547.00,384.78 L548.00,385.23 L549.00,385.70 L550.00,386.20 L551.00,386.72 L552.00,387.27 L553.00,387.85 L554.00,388.45 L555.00,389.07 L556.00,389.71 L557.00,390.38 L558.00,391.06 L559.00,391.77 L560.00,392.49 L561.00,393.23 L562.00,393.99 L563.00,394.76 L564.00,395.55 L565.00,396.35 L566.00,397.16 L567.00,397.99 L568.00,398.83 L569.00,399.67 L570.00,400.53 L571.00,401.40 L572.00,402.27 L573.00,403.15 L574.00,404.04 L575.00,404.93 L576.00,405.83 L577.00,406.73 L578.00,407.63 L579.00,408.54 L580.00,409.44 L581.00,410.35 L582.00,411.25 L583.00,412.16 L584.00,413.06 L585.00,413.95 L586.00,414.84 L587.00,415.73 L588.00,416.61 L589.00,417.48 L590.00,418.35 L591.00,419.20 L592.00,420.05 L593.00,420.88 L594.00,421.71 L595.00,422.53 L596.00,423.33 L597.00,424.13 L598.00,424.92 L599.00,425.70 L600.00,426.47 L601.00,427.23 L602.00,427.98 L603.00,428.72 L604.00,429.45 L605.00,430.17 L606.00,430.89 L607.00,431.59 L608.00,432.29 L609.00,432.98 L610.00,433.66 L611.00,434.33 L612.00,434.99 L613.00,435.64 L614.00,436.29 L615.00,436.93 L616.00,437.56 L617.00,438.18 L618.00,438.79 L619.00,439.40 L620.00,439.99 L621.00,440.58 L622.00,441.16 L623.00,441.74 L624.00,442.31 L625.00,442.86 L626.00,443.42 L627.00,443.96 L628.00,444.50 L629.00,445.03 L630.00,445.55 L631.00,446.07 L632.00,446.57 L633.00,447.08 L634.00,447.57 L635.00,448.06 L636.00,448.54 L637.00,449.02 L638.00,449.48 L639.00,449.95 L640.00,450.40 L641.00,450.85 L642.00,451.29 L643.00,451.73 L644.00,452.16 L645.00,452.59 L646.00,453.01 L647.00,453.42 L648.00,453.83 L649.00,454.23 L650.00,454.63 L651.00,455.02 L652.00,455.40 L653.00,455.78 L654.00,456.16 L655.00,456.53 L656.00,456.89 L657.00,457.25 L658.00,457.60 L659.00,457.95 L660.00,458.30 L661.00,458.64 L662.00,458.97 L663.00,459.30 L664.00,459.63 L665.00,459.95 L666.00,460.26 L667.00,460.58 L668.00,460.89 L669.00,461.19 L670.00,461.49 L671.00,461.79 L672.00,462.08 L673.00,462.37" fill="none" stroke="#4485e0" stroke-width="1.15" stroke-linejoin="round"/>
<path d="M397.00,471.50 L398.00,471.56 L399.00,471.60 L400.00,471.63 L401.00,471.63 L402.00,471.63 L403.00,471.60 L404.00,471.56 L405.00,471.51 L406.00,471.44 L407.00,471.35 L408.00,471.25 L409.00,471.14 L410.00,471.01 L411.00,470.86 L412.00,470.70 L413.00,470.53 L414.00,470.34 L415.00,470.14 L416.00,469.93 L417.00,469.70 L418.00,469.46 L419.00,469.21 L420.00,468.94 L421.00,468.66 L422.00,468.37 L423.00,468.07 L424.00,467.76 L425.00,467.43 L426.00,467.10 L427.00,466.75 L428.00,466.39 L429.00,466.02 L430.00,465.64 L431.00,465.26 L432.00,464.86 L433.00,464.45 L434.00,464.03 L435.00,463.60 L436.00,463.17 L437.00,462.72 L438.00,462.27 L439.00,461.81 L440.00,461.34 L441.00,460.86 L442.00,460.37 L443.00,459.88 L444.00,459.38 L445.00,458.87 L446.00,458.36 L447.00,457.83 L448.00,457.31 L449.00,456.77 L450.00,456.23 L451.00,455.69 L452.00,455.13 L453.00,454.58 L454.00,454.02 L455.00,453.45 L456.00,452.88 L457.00,452.30 L458.00,451.72 L459.00,451.13 L460.00,450.55 L461.00,449.95 L462.00,449.36 L463.00,448.76 L464.00,448.16 L465.00,447.56 L466.00,446.95 L467.00,446.35 L468.00,445.74 L469.00,445.13 L470.00,444.52 L471.00,443.92 L472.00,443.31 L473.00,442.70 L474.00,442.10 L475.00,441.50 L476.00,440.90 L477.00,440.30 L478.00,439.70 L479.00,439.11 L480.00,438.53 L481.00,437.94 L482.00,437.36 L483.00,436.79 L484.00,436.22 L485.00,435.66 L486.00,435.10 L487.00,434.55 L488.00,434.01 L489.00,433.48 L490.00,432.95 L491.00,432.43 L492.00,431.92 L493.00,431.42 L494.00,430.92 L495.00,430.44 L496.00,429.97 L497.00,429.50 L498.00,429.05 L499.00,428.60 L500.00,428.16 L501.00,427.74 L502.00,427.32 L503.00,426.91 L504.00,426.51 L505.00,426.12 L506.00,425.74 L507.00,425.37 L508.00,425.01 L509.00,424.66 L510.00,424.32 L511.00,423.98 L512.00,423.66 L513.00,423.35 L514.00,423.05 L515.00,422.75 L516.00,422.47 L517.00,422.19 L518.00,421.93 L519.00,421.67 L520.00,421.43 L521.00,421.19 L522.00,420.97 L523.00,420.75 L524.00,420.54 L525.00,420.35 L526.00,420.16 L527.00,419.98 L528.00,419.81 L529.00,419.66 L530.00,419.51 L531.00,419.37 L532.00,419.23 L533.00,419.11 L534.00,418.99 L535.00,418.89 L536.00,418.78 L537.00,418.69 L538.00,418.60 L539.00,418.52 L540.00,418.44 L541.00,418.37 L542.00,418.30 L543.00,418.24 L544.00,418.18 L545.00,418.13 L546.00,418.08 L547.00,418.03 L548.00,417.99 L549.00,417.94 L550.00,417.90 L551.00,417.87 L552.00,417.83 L553.00,417.80 L554.00,417.76 L555.00,417.73 L556.00,417.69 L557.00,417.66 L558.00,417.63 L559.00,417.59 L560.00,417.56 L561.00,417.52 L562.00,417.49 L563.00,417.45 L564.00,417.41 L565.00,417.37 L566.00,417.33 L567.00,417.29 L568.00,417.25 L569.00,417.20 L570.00,417.16 L571.00,417.11 L572.00,417.06 L573.00,417.01 L574.00,416.95 L575.00,416.89 L576.00,416.83 L577.00,416.77 L578.00,416.70 L579.00,416.63 L580.00,416.55 L581.00,416.48 L582.00,416.40 L583.00,416.31 L584.00,416.22 L585.00,416.13 L586.00,416.04 L587.00,415.94 L588.00,415.83 L589.00,415.72 L590.00,415.61 L591.00,415.50 L592.00,415.38 L593.00,415.26 L594.00,415.13 L595.00,415.00 L596.00,414.87 L597.00,414.74 L598.00,414.60 L599.00,414.46 L600.00,414.32 L601.00,414.17 L602.00,414.02 L603.00,413.87 L604.00,413.72 L605.00,413.57 L606.00,413.41 L607.00,413.25 L608.00,413.09 L609.00,412.93 L610.00,412.76 L611.00,412.60 L612.00,412.43 L613.00,412.26 L614.00,412.09 L615.00,411.92 L616.00,411.74 L617.00,411.57 L618.00,411.39 L619.00,411.22 L620.00,411.04 L621.00,410.86 L622.00,410.68 L623.00,410.50 L624.00,410.33 L625.00,410.15 L626.00,409.97 L627.00,409.79 L628.00,409.61 L629.00,409.43 L630.00,409.25 L631.00,409.07 L632.00,408.89 L633.00,408.71 L634.00,408.53 L635.00,408.35 L636.00,408.17 L637.00,408.00 L638.00,407.82 L639.00,407.65 L640.00,407.47 L641.00,407.30 L642.00,407.13 L643.00,406.96 L644.00,406.79 L645.00,406.62 L646.00,406.46 L647.00,406.29 L648.00,406.13 L649.00,405.97 L650.00,405.82 L651.00,405.66 L652.00,405.51 L653.00,405.35 L654.00,405.21 L655.00,405.06 L656.00,404.92 L657.00,404.77 L658.00,404.64 L659.00,404.50 L660.00,404.37 L661.00,404.24 L662.00,404.11 L663.00,403.99 L664.00,403.87 L665.00,403.75 L666.00,403.64 L667.00,403.53 L668.00,403.42 L669.00,403.32 L670.00,403.22 L671.00,403.13 L672.00,403.04 L673.00,402.95" fill="none" stroke="#4cb37b" stroke-width="1.05" stroke-linejoin="round"/>
<text x="396.50" y="503.20" text-anchor="middle" class="tl">0.000</text>
<text x="451.90" y="503.20" text-anchor="middle" class="tl">0.006</text>
<text x="507.30" y="503.20" text-anchor="middle" class="tl">0.012</text>
<text x="562.70" y="503.20" text-anchor="middle" class="tl">0.018</text>
<text x="618.10" y="503.20" text-anchor="middle" class="tl">0.024</text>
<text x="673.50" y="503.20" text-anchor="middle" class="tl">0.030</text>
<text x="391.90" y="475.30" text-anchor="end" class="tl">0.0</text>
<text x="391.90" y="438.00" text-anchor="end" class="tl">0.2</text>
<text x="391.90" y="400.70" text-anchor="end" class="tl">0.4</text>
<text x="391.90" y="363.40" text-anchor="end" class="tl">0.6</text>
<text x="391.90" y="326.10" text-anchor="end" class="tl">0.8</text>
<text x="391.90" y="288.80" text-anchor="end" class="tl">1.0</text>
<text x="535.00" y="520.50" text-anchor="middle" class="at">Time (s)</text>
<text transform="translate(375.30,378.95) rotate(-90)" text-anchor="middle" class="at2">Normalized energy</text>
<text x="367.00" y="275.80" class="pl">(d)</text>
<path d="M482.30,290.20H508.60" stroke="#626262" stroke-width="1.1"/>
<text x="510.90" y="293.80" class="lg">E<tspan class="sb" dy="3.4">k</tspan></text>
<path d="M524.70,290.20H551.00" stroke="#ec6a6e" stroke-width="1.1"/>
<text x="553.30" y="293.80" class="lg">E<tspan class="sb" dy="3.4">d</tspan></text>
<path d="M567.10,290.20H593.40" stroke="#4485e0" stroke-width="1.1"/>
<text x="595.70" y="293.80" class="lg">E<tspan class="sb" dy="3.4">s</tspan></text>
<path d="M609.50,290.20H635.80" stroke="#4cb37b" stroke-width="1.1"/>
<text x="638.10" y="293.80" class="lg">E<tspan class="sb" dy="3.4">f</tspan></text>
<text x="564.50" y="315.70" class="an">h<tspan class="sb2" dy="3.6">f</tspan><tspan dy="-3.6"> = 20 m</tspan></text>
</svg>
</body></html>
